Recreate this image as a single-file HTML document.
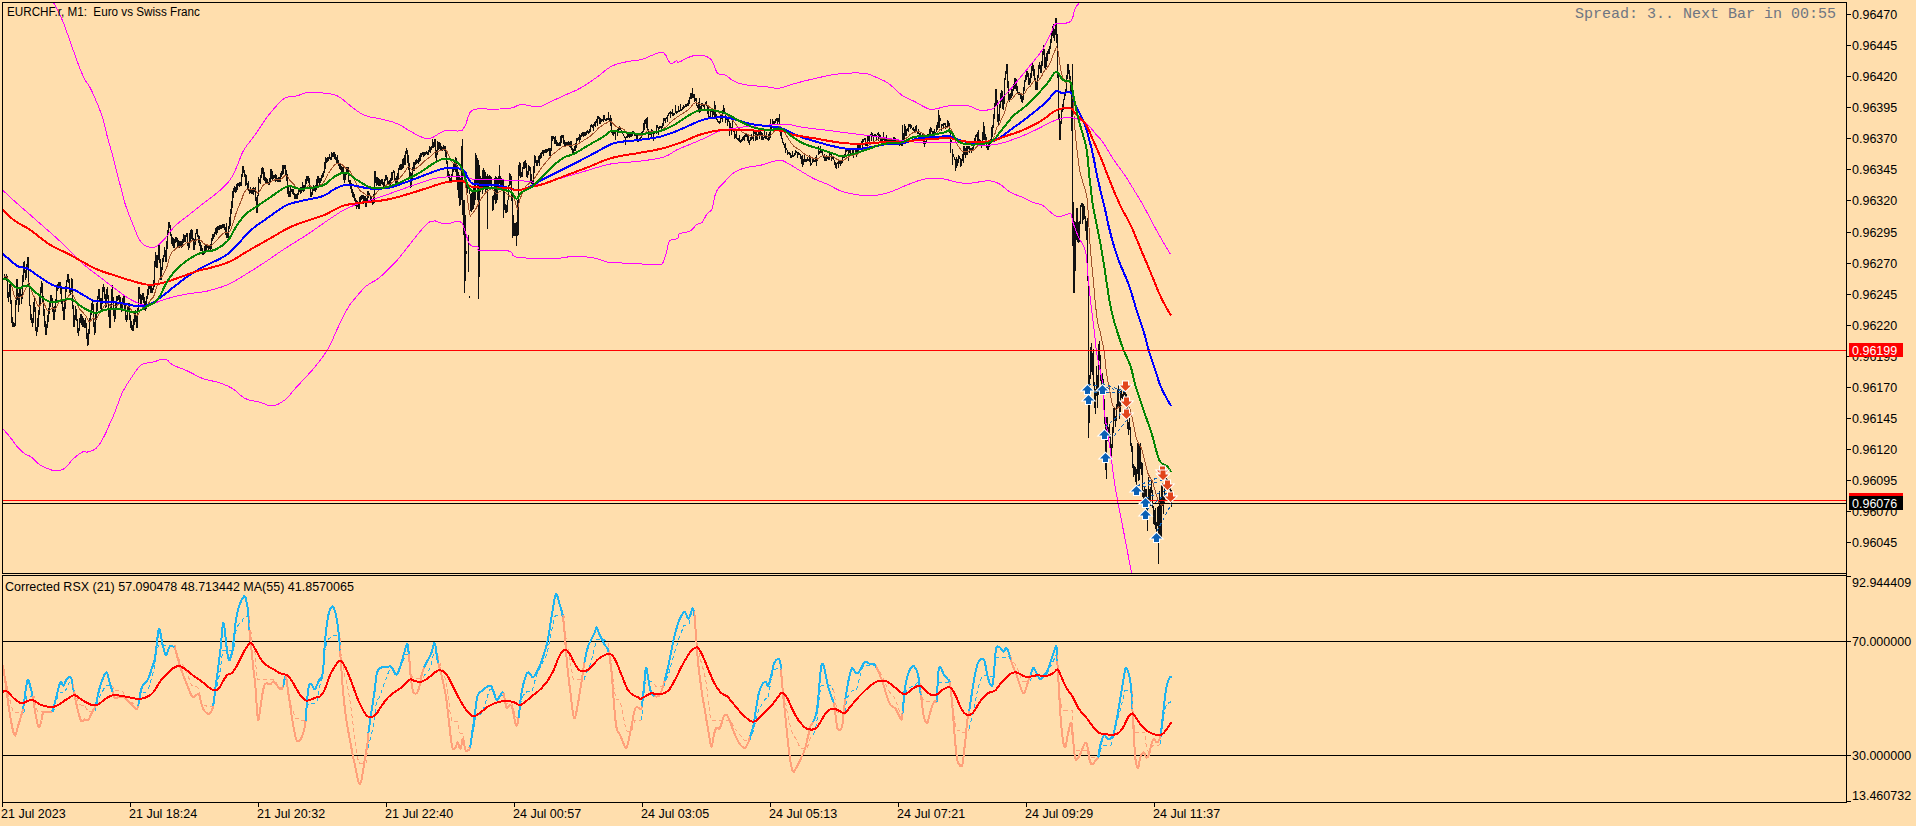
<!DOCTYPE html>
<html><head><meta charset="utf-8"><title>EURCHF.r,M1</title>
<style>
html,body{margin:0;padding:0;background:#FFDEAD;}
body{width:1916px;height:826px;position:relative;overflow:hidden;font-family:"Liberation Sans",sans-serif;}
.t{position:absolute;font-size:12.5px;line-height:14px;color:#000;white-space:nowrap;}
.m{position:absolute;font-family:"Liberation Mono",monospace;font-size:15px;line-height:16px;color:#6e7582;white-space:pre;}
.lab{position:absolute;width:54px;height:14px;font-size:12.5px;line-height:16px;color:#fff;text-indent:3px;white-space:nowrap;}
</style></head><body>
<svg width="1916" height="826" viewBox="0 0 1916 826" style="position:absolute;left:0;top:0" shape-rendering="crispEdges"><defs><clipPath id="cm"><rect x="3" y="3" width="1843" height="570"/></clipPath><clipPath id="cs"><rect x="3" y="577" width="1843" height="225"/></clipPath></defs><g clip-path="url(#cm)"><path d="M4.5 274V279M5.5 276V279M6.5 274V281M7.5 276V298M8.5 292V302M9.5 284V297M10.5 284V304M11.5 300V323M12.5 317V327M13.5 322V327M14.5 323V327M15.5 300V326M16.5 279V305M17.5 279V300M18.5 293V312M19.5 289V305M20.5 288V297M21.5 294V304M22.5 275V299M23.5 262V282M24.5 261V273M25.5 270V280M26.5 264V278M27.5 257V270M28.5 257V285M29.5 283V306M30.5 305V320M31.5 314V323M32.5 318V327M33.5 302V323M34.5 296V312M35.5 307V331M36.5 327V336M37.5 318V332M38.5 310V327M39.5 296V315M40.5 287V306M41.5 281V293M42.5 283V302M43.5 296V316M44.5 309V327M45.5 321V335M46.5 324V335M47.5 315V328M48.5 308V322M49.5 302V314M50.5 295V307M51.5 295V301M52.5 298V312M53.5 307V320M54.5 306V320M55.5 299V312M56.5 287V302M57.5 284V291M58.5 282V289M59.5 282V288M60.5 282V294M61.5 287V304M62.5 300V311M63.5 307V320M64.5 301V320M65.5 286V309M66.5 280V292M67.5 274V282M68.5 274V283M69.5 279V293M70.5 288V295M71.5 278V292M72.5 279V309M73.5 305V327M74.5 315V327M75.5 306V320M76.5 309V321M77.5 319V333M78.5 328V336M79.5 318V331M80.5 314V323M81.5 314V325M82.5 316V327M83.5 318V327M84.5 320V328M85.5 318V328M86.5 323V339M87.5 333V346M88.5 329V345M89.5 318V334M90.5 311V321M91.5 303V315M92.5 301V310M93.5 304V327M94.5 322V335M95.5 314V333M96.5 303V320M97.5 296V311M98.5 289V299M99.5 289V302M100.5 298V309M101.5 298V311M102.5 287V304M103.5 284V292M104.5 287V299M105.5 294V308M106.5 289V307M107.5 287V299M108.5 295V317M109.5 308V328M110.5 304V328M111.5 289V310M112.5 285V301M113.5 297V316M114.5 308V322M115.5 303V319M116.5 296V309M117.5 296V301M118.5 295V300M119.5 295V303M120.5 297V309M121.5 304V312M122.5 298V311M123.5 295V305M124.5 295V309M125.5 303V320M126.5 315V322M127.5 306V320M128.5 303V311M129.5 303V320M130.5 315V328M131.5 321V330M132.5 325V331M133.5 319V331M134.5 312V325M135.5 310V322M136.5 316V328M137.5 308V328M138.5 287V311M139.5 287V299M140.5 294V306M141.5 295V306M142.5 293V300M143.5 293V303M144.5 297V310M145.5 301V311M146.5 296V309M147.5 289V299M148.5 285V295M149.5 284V289M150.5 284V293M151.5 284V293M152.5 288V293M153.5 280V290M154.5 261V287M155.5 252V267M156.5 255V268M157.5 255V268M158.5 245V260M159.5 244V263M160.5 259V280M161.5 267V280M162.5 258V270M163.5 255V262M164.5 247V257M165.5 250V262M166.5 241V262M167.5 230V249M168.5 222V233M169.5 222V228M170.5 225V236M171.5 234V244M172.5 237V246M173.5 238V248M174.5 239V248M175.5 237V243M176.5 237V242M177.5 238V247M178.5 240V248M179.5 241V248M180.5 241V246M181.5 241V248M182.5 239V247M183.5 234V243M184.5 235V242M185.5 235V242M186.5 233V237M187.5 233V246M188.5 242V250M189.5 233V248M190.5 230V242M191.5 229V239M192.5 230V240M193.5 238V250M194.5 239V250M195.5 233V245M196.5 229V234M197.5 229V237M198.5 235V243M199.5 236V246M200.5 242V251M201.5 245V251M202.5 248V255M203.5 251V255M204.5 246V254M205.5 244V253M206.5 244V251M207.5 244V248M208.5 245V251M209.5 245V249M210.5 244V250M211.5 238V249M212.5 234V241M213.5 234V239M214.5 232V237M215.5 228V234M216.5 227V235M217.5 226V233M218.5 226V230M219.5 225V230M220.5 225V229M221.5 225V229M222.5 224V228M223.5 224V228M224.5 224V230M225.5 227V235M226.5 223V238M227.5 232V238M228.5 226V238M229.5 217V229M230.5 209V226M231.5 201V214M232.5 191V208M233.5 188V198M234.5 186V192M235.5 187V193M236.5 184V192M237.5 183V190M238.5 183V186M239.5 182V187M240.5 182V186M241.5 174V186M242.5 166V177M243.5 166V173M244.5 170V177M245.5 174V186M246.5 175V185M247.5 183V190M248.5 181V191M249.5 189V194M250.5 187V193M251.5 190V194M252.5 188V194M253.5 187V195M254.5 188V192M255.5 187V201M256.5 197V213M257.5 195V213M258.5 177V196M259.5 179V183M260.5 175V184M261.5 168V178M262.5 167V174M263.5 168V180M264.5 172V181M265.5 177V184M266.5 178V184M267.5 179V183M268.5 182V185M269.5 178V185M270.5 169V182M271.5 169V179M272.5 171V181M273.5 175V179M274.5 175V178M275.5 174V182M276.5 175V181M277.5 178V182M278.5 177V182M279.5 177V182M280.5 173V182M281.5 171V177M282.5 165V175M283.5 165V174M284.5 165V169M285.5 165V176M286.5 170V181M287.5 174V194M288.5 187V197M289.5 191V197M290.5 187V197M291.5 189V192M292.5 189V194M293.5 189V195M294.5 193V199M295.5 194V199M296.5 194V199M297.5 193V199M298.5 190V195M299.5 189V192M300.5 187V194M301.5 187V193M302.5 182V191M303.5 185V192M304.5 185V191M305.5 179V187M306.5 176V184M307.5 176V181M308.5 176V183M309.5 178V189M310.5 187V197M311.5 192V197M312.5 188V195M313.5 185V191M314.5 187V191M315.5 185V192M316.5 179V190M317.5 176V187M318.5 176V183M319.5 178V186M320.5 178V183M321.5 175V181M322.5 173V178M323.5 171V177M324.5 162V173M325.5 157V169M326.5 158V163M327.5 157V162M328.5 157V161M329.5 154V159M330.5 157V160M331.5 152V160M332.5 153V157M333.5 152V157M334.5 152V159M335.5 154V160M336.5 157V163M337.5 155V163M338.5 160V166M339.5 163V169M340.5 164V170M341.5 166V172M342.5 167V173M343.5 165V180M344.5 174V183M345.5 172V180M346.5 167V175M347.5 167V174M348.5 167V182M349.5 180V186M350.5 180V189M351.5 183V193M352.5 189V197M353.5 192V198M354.5 194V201M355.5 198V206M356.5 200V209M357.5 201V207M358.5 202V209M359.5 197V209M360.5 196V204M361.5 195V200M362.5 195V199M363.5 195V204M364.5 196V203M365.5 196V207M366.5 198V207M367.5 191V201M368.5 191V198M369.5 193V196M370.5 195V200M371.5 197V203M372.5 199V205M373.5 194V204M374.5 171V203M375.5 171V183M376.5 177V186M377.5 177V185M378.5 178V186M379.5 179V186M380.5 180V186M381.5 179V184M382.5 179V185M383.5 182V187M384.5 179V187M385.5 175V181M386.5 175V180M387.5 177V185M388.5 181V185M389.5 180V185M390.5 178V185M391.5 172V181M392.5 172V180M393.5 170V173M394.5 171V181M395.5 178V185M396.5 176V184M397.5 173V183M398.5 168V180M399.5 165V170M400.5 164V170M401.5 164V170M402.5 159V169M403.5 158V168M404.5 155V165M405.5 151V165M406.5 148V154M407.5 150V163M408.5 155V170M409.5 163V178M410.5 172V188M411.5 173V187M412.5 167V179M413.5 162V171M414.5 162V171M415.5 160V165M416.5 159V164M417.5 160V163M418.5 158V164M419.5 155V162M420.5 153V161M421.5 153V157M422.5 152V155M423.5 152V157M424.5 152V156M425.5 152V155M426.5 151V154M427.5 152V155M428.5 150V155M429.5 146V152M430.5 147V153M431.5 146V150M432.5 139V148M433.5 142V148M434.5 139V147M435.5 139V158M436.5 150V162M437.5 141V155M438.5 142V150M439.5 142V149M440.5 143V151M441.5 146V151M442.5 147V151M443.5 145V150M444.5 146V151M445.5 146V157M446.5 152V164M447.5 161V177M448.5 171V178M449.5 174V181M450.5 178V183M451.5 174V183M452.5 168V177M453.5 163V172M454.5 160V170M455.5 157V172M456.5 158V180M457.5 165V190M458.5 172V198M459.5 175V206M460.5 178V205M461.5 146V200M462.5 139V215M463.5 200V235M464.5 200V293M465.5 215V281M466.5 185V192M467.5 186V193M468.5 235V272M469.5 188V194M470.5 194V211M471.5 193V212M472.5 190V210M473.5 188V209M474.5 180V205M475.5 153V200M476.5 155V185M477.5 158V200M478.5 160V299M479.5 165V277M480.5 176V192M481.5 178V190M482.5 170V194M483.5 168V190M484.5 170V188M485.5 172V192M486.5 176V190M487.5 174V229M488.5 176V188M489.5 175V186M490.5 176V186M491.5 177V188M492.5 196V211M493.5 195V210M494.5 178V200M495.5 176V204M496.5 177V203M497.5 178V200M498.5 176V190M499.5 165V184M500.5 176V186M501.5 178V187M502.5 179V187M503.5 180V218M504.5 192V210M505.5 204V213M506.5 205V213M507.5 200V212M508.5 185V200M509.5 173V186M510.5 174V185M511.5 176V201M512.5 194V238M513.5 215V236M514.5 223V236M515.5 223V236M516.5 222V246M517.5 200V236M518.5 165V235M519.5 162V176M520.5 163V178M521.5 172V177M522.5 167V177M523.5 162V169M524.5 161V169M525.5 160V168M526.5 163V177M527.5 171V178M528.5 165V175M529.5 166V171M530.5 167V182M531.5 174V184M532.5 181V186M533.5 166V187M534.5 155V173M535.5 156V163M536.5 160V166M537.5 160V166M538.5 156V163M539.5 155V166M540.5 153V159M541.5 152V158M542.5 150V154M543.5 150V156M544.5 150V153M545.5 149V153M546.5 149V153M547.5 149V152M548.5 148V151M549.5 148V156M550.5 148V156M551.5 136V151M552.5 136V141M553.5 136V139M554.5 137V144M555.5 136V144M556.5 140V146M557.5 142V146M558.5 143V146M559.5 142V146M560.5 136V146M561.5 135V143M562.5 135V138M563.5 135V144M564.5 140V146M565.5 142V146M566.5 142V146M567.5 142V146M568.5 141V146M569.5 142V147M570.5 141V148M571.5 141V150M572.5 148V153M573.5 149V153M574.5 146V151M575.5 143V151M576.5 138V148M577.5 138V141M578.5 137V140M579.5 134V142M580.5 135V140M581.5 133V137M582.5 132V136M583.5 132V137M584.5 132V136M585.5 132V136M586.5 131V135M587.5 130V133M588.5 131V134M589.5 129V133M590.5 125V132M591.5 124V127M592.5 125V128M593.5 124V131M594.5 122V126M595.5 121V127M596.5 119V123M597.5 116V126M598.5 116V119M599.5 117V124M600.5 118V124M601.5 119V122M602.5 119V121M603.5 115V122M604.5 115V120M605.5 119V121M606.5 118V121M607.5 118V120M608.5 112V120M609.5 118V121M610.5 115V126M611.5 118V133M612.5 132V135M613.5 130V136M614.5 131V134M615.5 131V140M616.5 130V132M617.5 129V136M618.5 128V131M619.5 126V130M620.5 128V130M621.5 130V132M622.5 132V134M623.5 134V136M624.5 136V138M625.5 137V145M626.5 136V138M627.5 134V138M628.5 132V137M629.5 132V138M630.5 133V137M631.5 134V137M632.5 131V136M633.5 131V134M634.5 132V136M635.5 133V136M636.5 134V140M637.5 134V142M638.5 139V142M639.5 138V141M640.5 137V140M641.5 132V138M642.5 131V136M643.5 123V132M644.5 120V130M645.5 119V124M646.5 118V128M647.5 117V130M648.5 129V139M649.5 132V135M650.5 131V135M651.5 129V139M652.5 130V133M653.5 132V141M654.5 131V134M655.5 131V133M656.5 125V134M657.5 125V128M658.5 127V135M659.5 126V129M660.5 126V128M661.5 126V132M662.5 123V128M663.5 118V126M664.5 118V121M665.5 118V123M666.5 117V119M667.5 115V122M668.5 113V116M669.5 112V114M670.5 111V118M671.5 112V114M672.5 109V116M673.5 113V116M674.5 113V115M675.5 105V113M676.5 111V114M677.5 111V113M678.5 106V112M679.5 110V112M680.5 104V111M681.5 109V111M682.5 107V110M683.5 105V109M684.5 106V108M685.5 104V107M686.5 104V107M687.5 103V106M688.5 100V106M689.5 97V104M690.5 93V99M691.5 93V99M692.5 88V98M693.5 94V98M694.5 94V102M695.5 98V101M696.5 98V106M697.5 105V108M698.5 102V110M699.5 98V113M700.5 106V112M701.5 103V109M702.5 103V106M703.5 104V107M704.5 104V109M705.5 102V105M706.5 101V106M707.5 105V114M708.5 107V117M709.5 116V118M710.5 111V118M711.5 109V112M712.5 110V119M713.5 111V115M714.5 101V119M715.5 105V119M716.5 114V120M717.5 119V122M718.5 121V123M719.5 121V124M720.5 114V123M721.5 115V119M722.5 110V122M723.5 105V113M724.5 108V114M725.5 114V123M726.5 116V120M727.5 118V126M728.5 119V122M729.5 121V136M730.5 123V130M731.5 127V135M732.5 119V131M733.5 128V132M734.5 131V139M735.5 134V138M736.5 131V139M737.5 138V140M738.5 138V141M739.5 135V142M740.5 140V143M741.5 139V142M742.5 137V141M743.5 136V140M744.5 135V141M745.5 134V137M746.5 134V137M747.5 135V141M748.5 136V143M749.5 140V145M750.5 137V141M751.5 134V140M752.5 136V139M753.5 131V141M754.5 131V134M755.5 132V141M756.5 132V140M757.5 134V140M758.5 132V135M759.5 131V139M760.5 131V135M761.5 132V140M762.5 133V140M763.5 137V140M764.5 131V138M765.5 136V139M766.5 132V139M767.5 138V140M768.5 134V141M769.5 132V140M770.5 119V138M771.5 126V130M772.5 119V125M773.5 121V125M774.5 121V124M775.5 119V123M776.5 118V121M777.5 118V124M778.5 118V122M779.5 114V124M780.5 126V136M781.5 132V139M782.5 138V143M783.5 142V145M784.5 144V148M785.5 143V153M786.5 148V150M787.5 150V155M788.5 152V154M789.5 152V155M790.5 153V158M791.5 155V158M792.5 151V157M793.5 155V157M794.5 153V156M795.5 150V155M796.5 151V153M797.5 152V158M798.5 152V155M799.5 153V155M800.5 154V159M801.5 156V164M802.5 155V167M803.5 159V165M804.5 155V162M805.5 159V162M806.5 159V162M807.5 157V161M808.5 159V161M809.5 155V162M810.5 157V166M811.5 163V165M812.5 158V163M813.5 159V162M814.5 160V162M815.5 157V162M816.5 155V166M817.5 159V161M818.5 146V155M819.5 151V154M820.5 146V153M821.5 150V153M822.5 149V156M823.5 155V158M824.5 154V161M825.5 157V161M826.5 155V161M827.5 157V159M828.5 157V160M829.5 153V160M830.5 153V155M831.5 154V161M832.5 156V159M833.5 157V160M834.5 160V165M835.5 162V168M836.5 163V169M837.5 162V164M838.5 161V168M839.5 161V164M840.5 161V166M841.5 160V164M842.5 157V163M843.5 155V158M844.5 154V158M845.5 149V156M846.5 149V152M847.5 149V151M848.5 149V161M849.5 149V153M850.5 148V156M851.5 153V156M852.5 149V154M853.5 149V158M854.5 153V155M855.5 149V154M856.5 150V157M857.5 145V154M858.5 144V151M859.5 145V148M860.5 144V149M861.5 141V145M862.5 139V148M863.5 139V142M864.5 138V140M865.5 138V146M866.5 143V146M867.5 136V146M868.5 135V141M869.5 135V142M870.5 134V136M871.5 132V141M872.5 133V136M873.5 135V141M874.5 134V137M875.5 134V137M876.5 135V140M877.5 133V135M878.5 132V141M879.5 134V137M880.5 135V141M881.5 138V141M882.5 139V142M883.5 132V140M884.5 139V141M885.5 139V141M886.5 135V141M887.5 140V142M888.5 140V142M889.5 140V143M890.5 140V143M891.5 140V143M892.5 139V141M893.5 137V143M894.5 137V141M895.5 138V141M896.5 140V145M897.5 141V143M898.5 141V144M899.5 142V146M900.5 142V145M901.5 142V146M902.5 125V146M903.5 133V143M904.5 124V140M905.5 126V136M906.5 129V136M907.5 128V131M908.5 124V132M909.5 124V127M910.5 124V129M911.5 125V128M912.5 128V130M913.5 127V131M914.5 129V132M915.5 126V132M916.5 125V132M917.5 131V134M918.5 129V134M919.5 133V135M920.5 132V136M921.5 136V138M922.5 134V140M923.5 139V144M924.5 140V147M925.5 141V144M926.5 140V143M927.5 134V140M928.5 134V138M929.5 129V135M930.5 127V135M931.5 128V132M932.5 131V135M933.5 131V134M934.5 129V134M935.5 132V135M936.5 125V132M937.5 122V130M938.5 110V128M939.5 115V128M940.5 118V121M941.5 124V131M942.5 124V126M943.5 123V129M944.5 123V125M945.5 123V129M946.5 126V128M947.5 120V128M948.5 121V126M949.5 123V133M950.5 132V153M951.5 140V143M952.5 149V165M953.5 154V157M954.5 157V160M955.5 159V171M956.5 157V168M957.5 159V166M958.5 155V163M959.5 156V159M960.5 158V167M961.5 159V166M962.5 154V161M963.5 146V163M964.5 146V155M965.5 148V158M966.5 146V155M967.5 146V155M968.5 146V149M969.5 146V153M970.5 148V151M971.5 148V153M972.5 147V151M973.5 144V149M974.5 138V146M975.5 135V145M976.5 134V137M977.5 132V141M978.5 130V142M979.5 139V141M980.5 140V144M981.5 141V148M982.5 132V144M983.5 122V140M984.5 126V140M985.5 134V142M986.5 137V148M987.5 145V150M988.5 144V150M989.5 141V147M990.5 139V144M991.5 127V141M992.5 125V137M993.5 114V128M994.5 103V119M995.5 89V107M996.5 89V105M997.5 100V122M998.5 114V126M999.5 104V121M1000.5 93V108M1001.5 90V102M1002.5 91V109M1003.5 96V110M1004.5 78V104M1005.5 71V80M1006.5 64V74M1007.5 64V88M1008.5 81V101M1009.5 94V102M1010.5 93V99M1011.5 88V98M1012.5 89V96M1013.5 84V91M1014.5 78V89M1015.5 78V89M1016.5 79V91M1017.5 86V94M1018.5 92V95M1019.5 92V95M1020.5 93V99M1021.5 94V102M1022.5 96V103M1023.5 87V100M1024.5 80V91M1025.5 75V82M1026.5 71V80M1027.5 71V77M1028.5 73V85M1029.5 78V85M1030.5 73V83M1031.5 66V78M1032.5 63V71M1033.5 65V76M1034.5 69V80M1035.5 78V90M1036.5 82V90M1037.5 75V90M1038.5 65V78M1039.5 62V69M1040.5 65V73M1041.5 61V73M1042.5 51V66M1043.5 45V55M1044.5 49V68M1045.5 57V69M1046.5 53V67M1047.5 51V61M1048.5 49V54M1049.5 46V54M1050.5 39V49M1051.5 32V43M1052.5 26V36M1053.5 24V38M1054.5 29V41M1055.5 18V35M1056.5 18V43M1057.5 34V78M1058.5 73V119M1059.5 114V140M1060.5 121V140M1061.5 110V124M1062.5 104V112M1063.5 99V110M1064.5 93V100M1065.5 89V96M1066.5 75V92M1067.5 64V79M1068.5 64V74M1069.5 70V79M1070.5 76V94M1071.5 89V131M1072.5 64V246M1073.5 202V293M1074.5 221V293M1075.5 222V271M1076.5 208V240M1077.5 208V242M1078.5 222V243M1079.5 221V242M1080.5 205V224M1081.5 203V207M1082.5 203V224M1083.5 204V220M1084.5 206V219M1085.5 216V231M1086.5 221V240M1087.5 218V281M1088.5 281V438M1089.5 375V423M1090.5 347V379M1091.5 343V372M1092.5 353V375M1093.5 349V386M1094.5 382V408M1095.5 389V414M1096.5 366V396M1097.5 375V408M1098.5 344V395M1099.5 341V361M1100.5 355V381M1101.5 377V389M1102.5 373V387M1103.5 379V401M1104.5 399V424M1105.5 420V470M1106.5 417V479M1107.5 417V441M1108.5 427V442M1109.5 424V438M1110.5 434V456M1111.5 444V457M1112.5 427V448M1113.5 408V433M1114.5 408V421M1115.5 416V427M1116.5 404V421M1117.5 389V409M1118.5 385V408M1119.5 401V419M1120.5 391V412M1121.5 391V398M1122.5 394V399M1123.5 391V400M1124.5 389V395M1125.5 391V398M1126.5 394V412M1127.5 404V429M1128.5 422V435M1129.5 418V430M1130.5 427V446M1131.5 443V452M1132.5 446V468M1133.5 464V477M1134.5 466V475M1135.5 467V482M1136.5 469V487M1137.5 443V474M1138.5 443V481M1139.5 445V480M1140.5 443V469M1141.5 462V475M1142.5 463V497M1143.5 490V499M1144.5 487V501M1145.5 489V500M1146.5 489V511M1147.5 498V531M1148.5 477V500M1149.5 489V503M1150.5 487V506M1151.5 479V493M1152.5 490V508M1153.5 506V524M1154.5 510V525M1155.5 508V529M1156.5 522V536M1157.5 507V526M1158.5 506V564M1159.5 491V540M1160.5 498V537M1161.5 484V537M1162.5 483V506M1163.5 496V514M1164.5 474V503M1165.5 476V479M1166.5 478V483M1167.5 479V484M1168.5 480V490M1169.5 485V490M1170.5 485V493M1171.5 490V507M466.5 251V254M469.5 296V298" stroke="#111" stroke-width="1" fill="none"/><polyline points="4.5,276.5 5.5,276.6 6.5,276.8 7.5,277.8 8.5,279.9 9.5,281.0 10.5,282.3 11.5,285.4 12.5,289.2 13.5,292.9 14.5,296.3 15.5,298.0 16.5,297.4 17.5,296.6 18.5,297.2 19.5,297.2 20.5,296.7 21.5,296.9 22.5,295.9 23.5,293.4 24.5,290.6 25.5,289.0 26.5,287.1 27.5,284.6 28.5,283.2 29.5,284.4 30.5,287.3 31.5,290.6 32.5,293.9 33.5,295.9 34.5,296.8 35.5,299.1 36.5,302.5 37.5,304.9 38.5,306.3 39.5,306.2 40.5,305.2 41.5,303.3 42.5,302.2 43.5,302.6 44.5,304.2 45.5,306.7 46.5,309.0 47.5,310.4 48.5,310.8 49.5,310.6 50.5,309.5 51.5,308.3 52.5,308.0 53.5,308.6 54.5,309.0 55.5,308.7 56.5,307.2 57.5,305.2 58.5,303.1 59.5,301.2 60.5,299.8 61.5,299.4 62.5,300.0 63.5,301.4 64.5,302.4 65.5,301.9 66.5,300.2 67.5,297.9 68.5,295.9 69.5,294.8 70.5,294.5 71.5,293.5 72.5,293.6 73.5,295.9 74.5,298.5 75.5,300.0 76.5,301.6 77.5,304.2 78.5,307.1 79.5,308.9 80.5,309.9 81.5,310.9 82.5,312.1 83.5,313.2 84.5,314.3 85.5,315.2 86.5,316.9 87.5,319.3 88.5,321.1 89.5,321.7 90.5,321.0 91.5,319.7 92.5,318.2 93.5,318.0 94.5,319.1 95.5,319.6 96.5,318.7 97.5,317.1 98.5,314.7 99.5,312.7 100.5,311.7 101.5,310.9 102.5,309.3 103.5,307.0 104.5,305.6 105.5,305.1 106.5,304.3 107.5,303.1 108.5,303.4 109.5,305.0 110.5,306.2 111.5,305.4 112.5,304.1 113.5,304.4 114.5,305.5 115.5,306.1 116.5,305.7 117.5,304.9 118.5,304.2 119.5,303.6 120.5,303.6 121.5,304.0 122.5,304.1 123.5,303.6 124.5,303.4 125.5,304.3 126.5,305.8 127.5,306.6 128.5,306.6 129.5,307.1 130.5,308.7 131.5,310.5 132.5,312.3 133.5,313.7 134.5,314.2 135.5,314.4 136.5,315.2 137.5,315.5 138.5,313.8 139.5,311.6 140.5,310.4 141.5,309.4 142.5,308.0 143.5,307.0 144.5,306.6 145.5,306.6 146.5,306.2 147.5,304.9 148.5,303.3 149.5,301.6 150.5,300.2 151.5,299.0 152.5,298.1 153.5,296.7 154.5,294.3 155.5,290.7 156.5,287.6 157.5,284.8 158.5,281.4 159.5,278.5 160.5,277.6 161.5,277.1 162.5,275.7 163.5,273.9 164.5,271.6 165.5,269.9 166.5,268.0 167.5,265.0 168.5,261.1 169.5,257.3 170.5,254.5 171.5,252.9 172.5,251.7 173.5,250.7 174.5,250.0 175.5,248.9 176.5,247.9 177.5,247.3 178.5,247.0 179.5,246.7 180.5,246.3 181.5,246.1 182.5,245.8 183.5,245.0 184.5,244.3 185.5,243.7 186.5,242.8 187.5,242.5 188.5,242.9 189.5,242.6 190.5,241.9 191.5,241.1 192.5,240.4 193.5,240.8 194.5,241.1 195.5,240.9 196.5,239.9 197.5,239.2 198.5,239.2 199.5,239.4 200.5,240.2 201.5,241.0 202.5,242.1 203.5,243.3 204.5,244.0 205.5,244.5 206.5,244.8 207.5,245.0 208.5,245.3 209.5,245.5 210.5,245.6 211.5,245.4 212.5,244.6 213.5,243.8 214.5,242.8 215.5,241.6 216.5,240.5 217.5,239.4 218.5,238.2 219.5,237.0 220.5,236.0 221.5,235.0 222.5,234.1 223.5,233.3 224.5,232.6 225.5,232.5 226.5,232.3 227.5,232.6 228.5,232.5 229.5,231.5 230.5,230.0 231.5,227.6 232.5,224.7 233.5,221.4 234.5,218.0 235.5,215.0 236.5,212.2 237.5,209.5 238.5,206.9 239.5,204.6 240.5,202.4 241.5,200.0 242.5,197.0 243.5,194.2 244.5,192.0 245.5,190.7 246.5,189.6 247.5,189.3 248.5,188.9 249.5,189.2 250.5,189.3 251.5,189.6 252.5,189.7 253.5,189.9 254.5,189.9 255.5,190.3 256.5,191.8 257.5,193.1 258.5,192.4 259.5,191.2 260.5,190.0 261.5,188.2 262.5,186.3 263.5,185.0 264.5,184.1 265.5,183.7 266.5,183.4 267.5,183.2 268.5,183.2 269.5,183.0 270.5,182.2 271.5,181.4 272.5,180.8 273.5,180.4 274.5,180.0 275.5,179.8 276.5,179.6 277.5,179.7 278.5,179.7 279.5,179.7 280.5,179.5 281.5,178.9 282.5,178.0 283.5,177.1 284.5,176.1 285.5,175.4 286.5,175.4 287.5,176.4 288.5,178.0 289.5,179.7 290.5,181.0 291.5,182.0 292.5,182.9 293.5,183.9 294.5,185.2 295.5,186.4 296.5,187.5 297.5,188.4 298.5,188.8 299.5,189.0 300.5,189.1 301.5,189.2 302.5,188.9 303.5,188.9 304.5,188.8 305.5,188.1 306.5,187.3 307.5,186.4 308.5,185.7 309.5,185.4 310.5,186.1 311.5,187.0 312.5,187.5 313.5,187.5 314.5,187.6 315.5,187.7 316.5,187.4 317.5,186.8 318.5,186.0 319.5,185.6 320.5,185.1 321.5,184.3 322.5,183.4 323.5,182.4 324.5,180.8 325.5,179.0 326.5,177.0 327.5,175.2 328.5,173.5 329.5,171.7 330.5,170.3 331.5,168.8 332.5,167.4 333.5,166.0 334.5,165.0 335.5,164.1 336.5,163.7 337.5,163.2 338.5,163.1 339.5,163.4 340.5,163.8 341.5,164.4 342.5,165.0 343.5,165.8 344.5,167.1 345.5,168.0 346.5,168.4 347.5,168.6 348.5,169.2 349.5,170.7 350.5,172.1 351.5,173.8 352.5,175.8 353.5,177.8 354.5,179.8 355.5,182.2 356.5,184.5 357.5,186.6 358.5,188.6 359.5,190.1 360.5,191.1 361.5,191.8 362.5,192.3 363.5,193.1 364.5,193.8 365.5,194.6 366.5,195.4 367.5,195.5 368.5,195.4 369.5,195.3 370.5,195.6 371.5,196.1 372.5,196.7 373.5,197.0 374.5,196.0 375.5,194.0 376.5,192.7 377.5,191.5 378.5,190.5 379.5,189.6 380.5,189.0 381.5,188.2 382.5,187.5 383.5,187.2 384.5,186.8 385.5,185.8 386.5,185.0 387.5,184.5 388.5,184.3 389.5,184.1 390.5,183.8 391.5,183.1 392.5,182.3 393.5,181.2 394.5,180.6 395.5,180.7 396.5,180.6 397.5,180.3 398.5,179.7 399.5,178.4 400.5,177.2 401.5,176.2 402.5,174.9 403.5,173.7 404.5,172.2 405.5,170.8 406.5,168.6 407.5,167.4 408.5,166.9 409.5,167.3 410.5,168.6 411.5,169.8 412.5,170.2 413.5,169.8 414.5,169.5 415.5,168.7 416.5,168.0 417.5,167.3 418.5,166.6 419.5,165.8 420.5,164.9 421.5,163.9 422.5,162.8 423.5,161.9 424.5,161.1 425.5,160.3 426.5,159.5 427.5,158.9 428.5,158.1 429.5,157.2 430.5,156.4 431.5,155.6 432.5,154.3 433.5,153.3 434.5,152.2 435.5,151.9 436.5,152.3 437.5,151.8 438.5,151.2 439.5,150.6 440.5,150.2 441.5,150.1 442.5,150.0 443.5,149.7 444.5,149.6 445.5,149.8 446.5,150.6 447.5,152.6 448.5,154.9 449.5,157.3 450.5,159.7 451.5,161.7 452.5,162.9 453.5,163.4 454.5,163.6 455.5,163.7 456.5,164.9 457.5,166.7 458.5,168.4 459.5,169.7 460.5,170.3 461.5,170.3 462.5,170.7 463.5,171.1 464.5,177.0 465.5,184.4 466.5,191.7 467.5,199.0 468.5,206.3 469.5,213.6 470.5,215.8 471.5,214.6 472.5,213.4 473.5,212.2 474.5,211.0 475.5,209.5 476.5,207.5 477.5,205.5 478.5,203.4 479.5,201.4 480.5,199.6 481.5,198.3 482.5,197.0 483.5,195.6 484.5,194.3 485.5,193.0 486.5,191.7 487.5,191.1 488.5,190.5 489.5,189.9 490.5,189.3 491.5,188.7 492.5,189.7 493.5,190.7 494.5,191.6 495.5,192.6 496.5,193.6 497.5,193.3 498.5,192.6 499.5,191.9 500.5,191.3 501.5,190.6 502.5,190.0 503.5,190.3 504.5,191.3 505.5,192.3 506.5,193.4 507.5,194.4 508.5,195.4 509.5,196.1 510.5,196.5 511.5,196.9 512.5,197.2 513.5,197.6 514.5,199.0 515.5,202.7 516.5,206.4 517.5,208.6 518.5,204.9 519.5,201.2 520.5,197.7 521.5,195.5 522.5,193.2 523.5,191.0 524.5,188.8 525.5,186.6 526.5,185.7 527.5,184.8 528.5,184.0 529.5,183.1 530.5,182.2 531.5,181.3 532.5,180.5 533.5,179.6 534.5,178.2 535.5,176.7 536.5,175.3 537.5,173.8 538.5,172.3 539.5,170.8 540.5,169.3 541.5,167.8 542.5,166.5 543.5,165.3 544.5,164.1 545.5,162.9 546.5,161.7 547.5,160.5 548.5,159.3 549.5,158.1 550.5,156.9 551.5,155.7 552.5,154.5 553.5,153.7 554.5,152.9 555.5,152.2 556.5,151.4 557.5,150.6 558.5,149.8 559.5,149.0 560.5,148.2 561.5,147.4 562.5,146.6 563.5,146.4 564.5,146.2 565.5,146.1 566.5,146.0 567.5,145.8 568.5,145.7 569.5,145.6 570.5,145.4 571.5,145.3 572.5,145.1 573.5,145.0 574.5,144.8 575.5,144.6 576.5,144.5 577.5,144.1 578.5,143.6 579.5,143.1 580.5,142.5 581.5,141.9 582.5,141.3 583.5,140.6 584.5,139.9 585.5,139.3 586.5,138.7 587.5,138.0 588.5,137.4 589.5,136.7 590.5,135.9 591.5,134.8 592.5,133.9 593.5,133.3 594.5,132.3 595.5,131.4 596.5,130.3 597.5,129.3 598.5,128.0 599.5,127.2 600.5,126.6 601.5,126.0 602.5,125.3 603.5,124.6 604.5,123.9 605.5,123.5 606.5,123.0 607.5,122.6 608.5,121.9 609.5,121.7 610.5,121.6 611.5,122.0 612.5,123.2 613.5,124.2 614.5,125.1 615.5,126.2 616.5,126.7 617.5,127.3 618.5,127.5 619.5,127.6 620.5,127.8 621.5,128.1 622.5,128.6 623.5,129.3 624.5,130.1 625.5,131.3 626.5,131.9 627.5,132.3 628.5,132.6 629.5,132.8 630.5,133.0 631.5,133.3 632.5,133.3 633.5,133.3 634.5,133.3 635.5,133.5 636.5,133.9 637.5,134.3 638.5,135.0 639.5,135.4 640.5,135.7 641.5,135.7 642.5,135.4 643.5,134.6 644.5,133.5 645.5,132.3 646.5,131.4 647.5,130.5 648.5,130.9 649.5,131.1 650.5,131.3 651.5,131.6 652.5,131.6 653.5,132.1 654.5,132.2 655.5,132.2 656.5,131.9 657.5,131.3 658.5,131.3 659.5,130.9 660.5,130.5 661.5,130.3 662.5,129.9 663.5,129.0 664.5,128.0 665.5,127.2 666.5,126.3 667.5,125.5 668.5,124.3 669.5,123.1 670.5,122.2 671.5,121.3 672.5,120.3 673.5,119.8 674.5,119.1 675.5,118.1 676.5,117.5 677.5,116.9 678.5,116.1 679.5,115.6 680.5,114.8 681.5,114.3 682.5,113.7 683.5,113.0 684.5,112.4 685.5,111.7 686.5,111.0 687.5,110.3 688.5,109.6 689.5,108.6 690.5,107.3 691.5,106.1 692.5,104.7 693.5,103.8 694.5,103.2 695.5,102.8 696.5,102.8 697.5,103.2 698.5,103.5 699.5,103.7 700.5,104.2 701.5,104.4 702.5,104.5 703.5,104.6 704.5,104.8 705.5,104.7 706.5,104.6 707.5,105.1 708.5,105.9 709.5,107.0 710.5,107.8 711.5,108.1 712.5,108.8 713.5,109.2 714.5,109.3 715.5,109.6 716.5,110.4 717.5,111.5 718.5,112.6 719.5,113.6 720.5,114.1 721.5,114.4 722.5,114.6 723.5,113.9 724.5,113.6 725.5,114.2 726.5,114.6 727.5,115.3 728.5,115.9 729.5,117.2 730.5,118.2 731.5,119.5 732.5,120.1 733.5,121.2 734.5,122.6 735.5,124.0 736.5,125.2 737.5,126.6 738.5,128.0 739.5,129.1 740.5,130.4 741.5,131.5 742.5,132.3 743.5,132.9 744.5,133.4 745.5,133.7 746.5,133.9 747.5,134.3 748.5,134.9 749.5,135.7 750.5,136.0 751.5,136.1 752.5,136.2 753.5,136.2 754.5,135.8 755.5,135.9 756.5,135.9 757.5,136.1 758.5,135.8 759.5,135.7 760.5,135.4 761.5,135.5 762.5,135.6 763.5,135.9 764.5,135.8 765.5,135.9 766.5,135.9 767.5,136.2 768.5,136.3 769.5,136.3 770.5,135.4 771.5,134.6 772.5,133.3 773.5,132.2 774.5,131.2 775.5,130.1 776.5,129.0 777.5,128.2 778.5,127.3 779.5,126.5 780.5,127.0 781.5,127.9 782.5,129.2 783.5,130.7 784.5,132.3 785.5,133.9 786.5,135.5 787.5,137.3 788.5,139.0 789.5,140.5 790.5,142.1 791.5,143.6 792.5,144.7 793.5,145.9 794.5,146.8 795.5,147.5 796.5,147.9 797.5,148.7 798.5,149.2 799.5,149.7 800.5,150.4 801.5,151.4 802.5,152.5 803.5,153.5 804.5,154.0 805.5,154.7 806.5,155.3 807.5,155.7 808.5,156.2 809.5,156.4 810.5,156.9 811.5,157.7 812.5,158.0 813.5,158.3 814.5,158.6 815.5,158.6 816.5,158.9 817.5,159.0 818.5,158.1 819.5,157.6 820.5,156.7 821.5,156.2 822.5,155.8 823.5,155.8 824.5,156.0 825.5,156.3 826.5,156.5 827.5,156.7 828.5,156.9 829.5,156.9 830.5,156.6 831.5,156.6 832.5,156.7 833.5,156.9 834.5,157.5 835.5,158.3 836.5,159.1 837.5,159.5 838.5,160.0 839.5,160.3 840.5,160.6 841.5,160.7 842.5,160.6 843.5,160.2 844.5,159.8 845.5,159.0 846.5,158.1 847.5,157.2 848.5,157.0 849.5,156.4 850.5,155.9 851.5,155.7 852.5,155.3 853.5,155.1 854.5,155.0 855.5,154.7 856.5,154.5 857.5,154.0 858.5,153.3 859.5,152.6 860.5,151.9 861.5,151.0 862.5,150.2 863.5,149.2 864.5,148.1 865.5,147.5 866.5,147.2 867.5,146.5 868.5,145.6 869.5,144.9 870.5,143.8 871.5,143.1 872.5,142.2 873.5,141.8 874.5,141.1 875.5,140.5 876.5,140.2 877.5,139.5 878.5,139.2 879.5,138.8 880.5,138.7 881.5,138.9 882.5,139.0 883.5,138.7 884.5,138.8 885.5,139.0 886.5,138.9 887.5,139.1 888.5,139.3 889.5,139.5 890.5,139.8 891.5,139.9 892.5,139.9 893.5,139.9 894.5,139.8 895.5,139.8 896.5,140.1 897.5,140.3 898.5,140.5 899.5,140.9 900.5,141.2 901.5,141.6 902.5,140.9 903.5,140.6 904.5,139.7 905.5,138.8 906.5,138.1 907.5,137.2 908.5,136.3 909.5,135.1 910.5,134.3 911.5,133.4 912.5,133.0 913.5,132.5 914.5,132.3 915.5,132.0 916.5,131.6 917.5,131.7 918.5,131.7 919.5,131.9 920.5,132.1 921.5,132.6 922.5,133.1 923.5,134.0 924.5,135.0 925.5,135.8 926.5,136.4 927.5,136.5 928.5,136.4 929.5,136.0 930.5,135.5 931.5,134.9 932.5,134.7 933.5,134.4 934.5,134.2 935.5,134.1 936.5,133.5 937.5,132.7 938.5,131.3 939.5,130.2 940.5,129.1 941.5,128.9 942.5,128.5 943.5,128.3 944.5,127.8 945.5,127.7 946.5,127.6 947.5,127.2 948.5,126.9 949.5,127.0 950.5,128.6 951.5,130.0 952.5,132.8 953.5,135.2 954.5,137.7 955.5,140.5 956.5,142.9 957.5,144.9 958.5,146.4 959.5,147.6 960.5,149.2 961.5,150.6 962.5,151.4 963.5,151.7 964.5,151.6 965.5,151.7 966.5,151.6 967.5,151.5 968.5,151.1 969.5,150.9 970.5,150.8 971.5,150.8 972.5,150.6 973.5,150.1 974.5,149.3 975.5,148.3 976.5,147.0 977.5,145.9 978.5,144.8 979.5,144.3 980.5,144.1 981.5,144.1 982.5,143.5 983.5,142.1 984.5,141.2 985.5,140.8 986.5,141.0 987.5,141.7 988.5,142.3 989.5,142.5 990.5,142.4 991.5,141.5 992.5,140.4 993.5,138.3 994.5,135.5 995.5,131.6 996.5,128.0 997.5,126.2 998.5,125.5 999.5,124.2 1000.5,121.7 1001.5,119.0 1002.5,117.0 1003.5,115.5 1004.5,112.9 1005.5,109.0 1006.5,104.8 1007.5,101.8 1008.5,100.6 1009.5,100.4 1010.5,99.9 1011.5,99.2 1012.5,98.4 1013.5,97.3 1014.5,95.8 1015.5,94.5 1016.5,93.5 1017.5,93.1 1018.5,93.1 1019.5,93.2 1020.5,93.5 1021.5,94.0 1022.5,94.5 1023.5,94.4 1024.5,93.5 1025.5,91.9 1026.5,90.2 1027.5,88.5 1028.5,87.5 1029.5,86.9 1030.5,85.9 1031.5,84.4 1032.5,82.5 1033.5,81.3 1034.5,80.5 1035.5,80.9 1036.5,81.4 1037.5,81.6 1038.5,80.5 1039.5,78.9 1040.5,77.8 1041.5,76.6 1042.5,74.7 1043.5,72.1 1044.5,70.7 1045.5,69.8 1046.5,68.8 1047.5,67.5 1048.5,65.8 1049.5,64.2 1050.5,62.1 1051.5,59.5 1052.5,56.5 1053.5,53.8 1054.5,51.9 1055.5,49.2 1056.5,47.2 1057.5,48.2 1058.5,53.2 1059.5,61.0 1060.5,68.3 1061.5,73.5 1062.5,77.1 1063.5,79.9 1064.5,81.7 1065.5,82.8 1066.5,82.9 1067.5,81.7 1068.5,80.4 1069.5,79.7 1070.5,80.3 1071.5,83.4 1072.5,90.9 1073.5,107.4 1074.5,123.1 1075.5,136.1 1076.5,145.4 1077.5,153.7 1078.5,162.0 1079.5,169.3 1080.5,174.0 1081.5,177.3 1082.5,181.1 1083.5,184.3 1084.5,187.3 1085.5,191.1 1086.5,195.3 1087.5,201.0 1088.5,217.7 1089.5,236.8 1090.5,250.1 1091.5,261.4 1092.5,272.2 1093.5,282.2 1094.5,294.1 1095.5,305.4 1096.5,313.4 1097.5,321.6 1098.5,326.6 1099.5,329.2 1100.5,333.3 1101.5,338.5 1102.5,342.9 1103.5,347.8 1104.5,354.5 1105.5,364.1 1106.5,372.9 1107.5,378.8 1108.5,384.6 1109.5,389.5 1110.5,395.4 1111.5,401.2 1112.5,405.0 1113.5,406.7 1114.5,407.5 1115.5,409.0 1116.5,409.3 1117.5,408.2 1118.5,406.9 1119.5,407.3 1120.5,406.7 1121.5,405.4 1122.5,404.5 1123.5,403.5 1124.5,402.3 1125.5,401.5 1126.5,401.7 1127.5,403.3 1128.5,405.9 1129.5,407.8 1130.5,410.9 1131.5,414.7 1132.5,419.2 1133.5,424.6 1134.5,429.4 1135.5,434.2 1136.5,438.8 1137.5,440.9 1138.5,443.1 1139.5,445.1 1140.5,446.3 1141.5,448.6 1142.5,451.9 1143.5,456.4 1144.5,460.3 1145.5,463.9 1146.5,467.7 1147.5,472.6 1148.5,474.3 1149.5,476.6 1150.5,478.6 1151.5,479.4 1152.5,481.4 1153.5,484.9 1154.5,488.4 1155.5,491.6 1156.5,495.5 1157.5,497.7 1158.5,501.6 1159.5,503.1 1160.5,504.6 1161.5,505.2 1162.5,504.1 1163.5,504.2 1164.5,502.5 1165.5,499.9 1166.5,497.8 1167.5,496.1 1168.5,494.9 1169.5,494.1 1170.5,493.6 1171.5,494.1" fill="none" stroke="#A0522D" stroke-width="1" /><polyline points="53.8,3.0 55.7,6.6 58.5,11.7 61.2,17.5 63.8,23.7 66.2,30.5 68.8,37.5 71.2,44.6 73.8,51.8 76.2,58.8 78.8,65.5 81.3,72.0 83.8,77.5 85.9,81.3 88.0,84.2 90.0,87.5 92.1,91.7 94.2,96.3 96.2,101.2 98.4,106.3 100.5,111.7 102.5,117.5 104.3,124.0 105.9,130.9 107.5,137.5 109.2,143.4 110.8,149.1 112.5,155.0 114.2,161.5 115.8,168.3 117.5,175.0 119.2,181.6 121.0,188.0 122.5,193.8 123.6,198.1 124.5,201.8 125.8,206.0 127.8,211.5 130.2,217.7 132.5,223.5 134.7,229.0 136.8,234.2 138.8,238.5 140.5,241.4 142.0,243.3 143.8,244.8 145.7,246.0 147.9,246.8 150.0,247.2 152.0,247.5 154.0,247.4 156.2,246.5 158.9,244.5 161.9,241.8 165.0,238.5 168.1,234.6 171.4,230.1 175.0,226.0 179.0,222.5 183.2,219.2 187.5,216.0 191.5,212.8 195.5,209.6 200.0,206.0 205.6,201.7 211.9,197.1 217.5,192.5 222.2,188.4 226.4,184.3 230.0,180.0 232.9,175.2 235.3,170.1 237.5,165.0 239.5,160.0 241.3,155.0 243.8,150.0 247.2,145.0 251.2,140.0 255.0,135.0 258.4,129.9 261.7,124.8 265.0,120.0 268.3,115.5 271.7,111.4 275.0,107.5 278.2,103.8 281.5,100.5 285.0,98.0 289.1,96.8 293.4,96.3 297.5,95.8 300.6,94.6 303.3,93.3 307.5,92.5 314.5,92.5 323.0,93.0 330.0,93.8 334.2,94.6 336.9,95.7 340.0,97.5 344.0,100.4 348.2,104.1 352.5,107.5 356.6,110.5 360.6,113.3 365.0,115.5 369.7,116.9 374.7,117.7 380.0,118.8 385.7,120.1 391.8,121.7 397.5,123.8 402.6,126.5 407.5,129.6 412.5,132.5 417.8,135.3 423.3,137.8 428.8,138.8 434.1,136.8 439.5,133.2 445.0,130.5 451.1,130.4 457.4,131.1 462.5,130.0 465.7,124.9 467.8,117.9 470.0,112.5 472.7,110.1 475.5,109.2 479.0,108.8 483.5,108.7 488.6,109.1 494.0,109.2 499.9,109.0 506.1,108.6 511.5,108.0 515.1,106.8 517.9,105.3 521.5,104.5 527.0,105.1 533.3,106.4 539.0,106.8 543.4,105.5 547.3,103.5 551.5,101.2 556.3,99.1 561.4,96.8 566.5,94.5 571.5,92.3 576.5,90.1 581.5,87.5 586.5,84.4 591.5,81.0 596.5,77.5 601.5,73.6 606.5,69.5 611.5,66.2 616.5,64.2 621.5,62.8 626.5,61.8 631.6,60.9 636.7,60.4 641.5,59.5 646.0,57.9 650.1,56.0 654.0,54.5 657.5,53.1 660.6,52.1 663.5,52.5 666.0,55.6 668.1,60.2 670.2,63.2 672.5,63.2 674.8,61.8 676.5,60.8 677.0,61.3 677.0,62.4 678.2,62.5 681.9,60.8 686.8,58.2 691.5,56.2 695.5,55.4 699.3,55.2 702.8,55.5 706.0,56.3 708.9,57.7 711.5,60.0 713.6,64.1 715.3,69.2 717.2,73.0 719.7,74.3 722.4,74.4 725.2,75.0 728.0,76.9 730.8,79.2 734.0,81.2 737.6,82.8 741.6,84.0 746.5,85.0 752.9,85.7 760.1,86.3 766.5,86.8 771.1,87.5 774.9,88.2 779.0,88.2 783.6,87.2 788.5,85.5 794.0,83.8 800.1,82.1 806.8,80.4 814.0,78.8 822.0,76.9 830.5,75.1 839.0,73.8 847.8,73.1 856.6,72.9 864.0,73.2 869.1,74.2 872.8,75.8 876.5,77.5 880.7,79.2 884.8,81.2 889.0,83.8 893.2,87.3 897.3,91.4 901.5,95.0 905.7,97.4 909.8,99.3 914.0,101.2 918.4,103.7 922.7,106.1 926.5,108.0 929.2,109.0 931.3,109.4 934.0,109.2 937.8,108.5 942.2,107.2 946.5,106.2 950.5,105.8 954.3,105.6 958.0,105.5 961.4,105.3 964.6,105.1 968.0,105.5 971.6,106.9 975.3,108.8 979.2,110.0 983.9,110.3 988.8,109.9 993.0,108.8 995.8,106.6 997.9,103.6 1000.5,100.0 1004.1,96.1 1008.3,91.6 1013.0,86.2 1018.6,79.5 1024.9,72.0 1030.5,65.0 1035.2,59.3 1039.3,54.1 1043.0,48.8 1046.4,42.6 1049.3,36.4 1051.8,31.2 1053.1,27.8 1054.0,25.4 1055.5,23.8 1058.5,23.2 1062.2,23.4 1065.5,23.2 1068.0,22.7 1070.0,21.8 1071.8,20.0 1073.0,16.6 1074.0,12.4 1075.0,8.8 1076.5,6.2 1078.1,4.3 1079.2,3.0" fill="none" stroke="#FF00FF" stroke-width="1" /><polyline points="2.5,190.0 6.9,194.1 13.3,200.0 20.0,206.0 26.4,211.6 33.1,217.4 40.0,223.5 47.4,230.0 55.1,236.7 62.5,243.5 69.3,250.3 75.7,257.0 82.5,263.5 89.9,269.6 97.6,275.4 105.0,281.0 112.0,286.4 118.8,291.6 125.0,296.0 130.6,299.5 135.6,302.1 140.0,304.0 143.7,305.0 146.9,305.1 150.0,304.8 153.1,303.9 156.3,302.5 160.0,301.0 164.6,299.5 169.8,297.9 175.0,296.5 179.9,295.4 184.8,294.4 190.0,293.5 195.6,292.8 201.4,292.1 207.5,291.0 214.1,289.3 220.9,287.2 227.5,284.8 233.4,281.8 239.1,278.4 245.0,274.8 251.5,270.8 258.2,266.6 265.0,262.2 271.7,257.7 278.3,253.0 285.0,248.5 291.7,244.3 298.3,240.2 305.0,236.0 311.9,231.4 318.7,226.6 325.0,222.2 330.5,218.5 335.4,215.2 340.0,212.2 344.0,209.9 347.7,208.0 352.5,206.0 359.2,203.7 366.9,201.3 375.0,198.8 383.1,195.9 391.6,193.0 400.0,190.0 408.7,186.9 417.4,183.8 425.0,181.2 430.5,179.5 434.8,178.3 440.0,177.5 447.5,176.9 455.8,176.7 462.5,176.8 466.1,177.3 467.9,178.1 470.0,178.8 472.3,179.1 474.8,179.3 479.0,179.5 486.1,179.6 494.9,179.8 504.0,180.0 513.8,180.4 523.9,181.0 531.5,181.8 534.1,183.1 534.2,184.6 536.5,185.0 543.3,183.5 552.2,180.8 561.5,178.0 570.7,175.3 580.1,172.6 589.0,170.0 596.7,167.6 603.8,165.5 611.5,163.8 620.4,162.7 629.8,162.1 639.0,161.2 648.0,160.1 656.7,158.7 664.0,157.0 669.0,154.8 672.6,152.4 676.5,150.0 681.2,147.9 686.2,145.9 691.5,143.8 697.4,141.3 703.6,138.6 709.0,136.2 712.5,134.4 715.2,132.7 719.0,131.2 725.1,129.8 732.3,128.5 739.0,127.5 744.4,126.9 749.2,126.6 754.0,126.2 758.9,125.8 763.8,125.4 769.0,125.0 774.6,124.6 780.6,124.2 786.5,124.2 792.1,125.0 797.6,126.3 804.0,127.5 811.8,128.5 820.4,129.5 829.0,130.5 837.3,131.6 845.7,132.7 854.0,133.8 862.5,134.8 871.0,135.9 879.0,137.0 886.2,138.1 892.9,139.1 899.0,140.0 904.2,140.8 908.8,141.4 914.0,142.0 920.5,142.5 927.5,142.9 934.0,143.0 939.6,142.8 944.6,142.3 949.0,142.0 952.0,142.0 954.4,142.1 958.0,142.5 963.9,143.3 971.1,144.3 978.0,145.0 984.0,145.2 989.8,145.1 995.5,144.5 1001.2,143.3 1007.0,141.6 1013.0,139.5 1019.5,137.1 1026.2,134.3 1033.0,131.2 1039.9,127.8 1046.9,124.2 1053.0,121.2 1057.9,119.4 1062.0,118.2 1065.5,117.5 1068.2,117.2 1070.3,117.4 1073.0,118.0 1076.9,119.0 1081.3,120.4 1085.5,122.5 1089.1,125.8 1092.4,129.9 1095.5,133.8 1098.1,136.6 1100.4,139.1 1103.0,142.5 1106.1,147.3 1109.4,153.0 1113.0,158.8 1117.1,164.5 1121.4,170.5 1125.5,176.2 1129.1,181.9 1132.4,187.3 1135.5,192.5 1138.2,196.9 1140.6,200.9 1143.5,206.0 1147.3,213.0 1151.5,221.0 1155.5,228.5 1159.2,235.0 1162.6,241.0 1165.5,246.0 1167.7,249.7 1169.4,252.5 1170.5,254.2" fill="none" stroke="#FF00FF" stroke-width="1" /><polyline points="3.0,429.0 4.8,431.0 7.4,433.9 10.0,437.0 12.5,440.3 15.0,443.8 17.5,447.0 20.0,449.7 22.6,452.1 25.0,454.0 27.1,455.1 29.0,455.8 31.2,457.0 33.9,459.4 36.9,462.4 40.0,465.0 43.4,466.9 46.9,468.4 50.0,469.5 52.3,470.3 54.1,470.7 56.2,470.8 59.0,470.4 62.1,469.7 65.0,468.2 67.5,465.8 69.9,462.6 72.5,459.5 75.8,456.6 79.4,453.9 82.5,452.0 84.4,451.6 85.7,452.0 87.5,452.0 90.2,451.3 93.3,450.2 96.2,448.2 98.9,445.1 101.4,441.2 103.8,437.0 106.0,432.5 108.1,427.7 110.0,423.2 111.7,419.6 113.2,416.3 115.0,412.0 117.2,405.9 119.7,398.9 122.5,392.2 125.7,386.4 129.2,380.9 132.5,376.0 135.4,371.6 138.2,367.7 141.2,364.8 144.8,363.3 148.6,362.8 152.5,362.2 156.8,360.9 161.2,359.4 165.0,359.0 167.6,360.2 169.6,362.5 172.5,364.8 176.9,366.8 182.2,368.8 187.5,371.0 192.5,373.5 197.5,376.2 202.5,378.5 207.5,379.9 212.5,381.0 217.5,382.2 222.6,384.0 227.7,386.0 232.5,388.5 236.8,391.8 240.7,395.5 245.0,398.5 249.9,400.2 255.1,401.2 260.0,402.2 264.4,403.9 268.4,405.5 272.5,406.0 276.7,404.9 280.8,402.8 285.0,399.8 289.1,395.8 293.1,391.0 297.5,386.0 302.3,380.9 307.4,375.5 312.5,369.8 317.7,363.4 322.9,356.6 327.5,349.8 331.2,342.7 334.4,335.5 337.5,328.5 340.9,321.4 344.4,314.4 347.5,308.5 350.0,304.5 352.3,301.6 355.0,298.5 358.4,294.4 362.2,290.0 366.2,286.0 370.5,283.1 375.0,280.7 380.0,277.2 385.6,272.1 391.7,266.0 397.5,259.8 402.6,253.6 407.4,247.4 412.5,241.0 418.2,233.7 424.3,226.4 430.0,221.5 435.2,220.9 440.1,222.7 445.0,224.0 450.4,223.1 455.7,221.6 460.0,221.5 462.4,223.6 463.7,227.1 465.0,231.0 466.5,235.7 468.0,240.8 470.0,244.8 473.0,246.4 476.5,246.8 479.0,247.2 478.7,248.4 477.5,249.6 479.0,250.5 486.1,250.7 496.0,250.5 504.0,250.5 507.9,250.8 509.8,251.4 511.5,252.2 512.3,253.8 512.9,255.7 516.5,257.2 526.0,258.0 538.6,258.4 549.0,258.5 554.7,258.5 558.3,258.3 561.5,258.0 564.9,257.5 568.1,256.9 571.5,256.5 575.5,256.4 579.7,256.5 584.0,256.8 588.2,257.1 592.4,257.7 596.5,258.5 600.2,259.7 603.9,261.1 607.8,262.2 611.9,262.7 616.4,262.8 621.5,263.0 627.8,263.3 634.9,263.7 641.5,264.0 647.6,264.2 653.3,264.3 657.8,264.2 660.3,264.3 661.6,264.2 662.8,263.0 664.1,260.1 665.4,256.2 666.5,252.2 667.4,248.2 668.1,244.1 669.5,241.0 672.1,239.6 675.3,239.2 677.8,238.5 678.3,237.1 678.1,235.5 679.0,234.0 682.2,233.0 686.5,232.2 690.2,231.0 692.7,229.0 694.6,226.7 696.5,224.8 698.5,223.8 700.5,223.3 702.2,222.2 703.7,220.0 705.1,217.2 706.5,214.8 708.2,212.9 710.1,211.2 711.5,209.8 712.1,208.8 712.3,208.0 712.8,206.0 713.6,201.7 714.8,196.2 716.5,191.2 719.0,187.5 722.1,184.3 725.2,181.2 728.0,178.1 730.8,175.1 734.0,172.5 737.8,170.5 742.0,168.8 746.5,167.5 751.3,166.6 756.4,165.9 761.5,165.0 766.8,163.5 772.1,161.7 776.5,160.5 779.3,160.1 781.2,160.2 784.0,161.2 788.4,163.6 793.7,166.8 799.0,170.0 804.0,173.0 809.0,176.0 814.0,178.8 819.1,181.0 824.2,183.0 829.0,185.0 833.2,187.2 837.1,189.4 841.5,191.2 847.1,192.8 853.2,194.1 859.0,195.0 864.2,195.5 869.1,195.7 874.0,195.5 879.0,194.9 884.0,193.9 889.0,192.5 894.0,190.6 899.0,188.4 904.0,186.2 909.0,184.2 914.1,182.2 919.0,180.5 923.7,179.3 928.2,178.4 932.8,178.0 937.4,178.1 942.1,178.7 946.5,179.5 950.5,180.5 954.2,181.6 958.0,182.5 962.1,183.0 966.3,183.3 970.5,183.2 974.8,182.7 979.0,181.9 983.0,181.2 986.6,180.9 989.9,180.9 993.0,181.2 996.0,182.3 998.9,183.7 1001.8,185.5 1004.5,187.7 1007.3,190.2 1010.5,192.5 1014.5,194.3 1018.9,195.9 1023.0,197.5 1026.5,199.2 1029.8,201.0 1033.0,202.5 1036.2,203.4 1039.4,204.0 1043.0,205.5 1047.3,209.1 1052.0,213.6 1056.8,216.5 1061.8,216.1 1066.8,214.2 1070.5,213.5 1071.9,214.9 1072.0,217.6 1072.5,221.0 1074.0,225.4 1075.9,230.7 1078.0,236.0 1080.5,240.6 1083.3,245.3 1085.5,251.0 1086.7,258.6 1087.4,267.3 1088.0,276.0 1088.8,284.1 1089.6,292.3 1090.5,301.0 1091.7,310.9 1093.0,321.4 1094.2,331.0 1095.1,339.0 1095.8,346.1 1096.8,353.5 1098.3,361.7 1100.2,370.3 1101.8,378.5 1102.7,386.6 1103.3,394.4 1103.8,401.0 1103.8,404.6 1103.8,406.9 1104.2,412.0 1105.8,422.2 1108.0,435.2 1110.0,447.8 1111.5,459.3 1112.8,470.4 1114.2,480.5 1115.5,489.0 1116.9,496.6 1118.4,504.7 1120.2,513.9 1122.1,523.7 1124.2,534.5 1126.8,548.0 1129.5,562.4 1131.5,572.6" fill="none" stroke="#FF00FF" stroke-width="1" /><polyline points="2.5,253.5 5.3,256.0 9.4,259.6 13.8,263.3 17.5,266.0 20.3,267.2 22.7,267.5 24.9,267.7 27.5,268.5 30.4,270.2 33.4,272.5 36.6,274.9 40.0,277.2 43.5,279.6 47.2,282.0 51.0,284.2 55.0,286.0 59.3,287.1 63.9,287.8 68.4,288.3 72.5,289.2 76.0,290.7 79.2,292.5 82.2,294.4 85.0,296.0 87.4,297.5 89.5,298.8 91.9,300.1 95.0,301.0 99.2,301.5 104.2,301.7 109.6,301.8 115.0,302.2 120.7,303.1 126.7,304.3 132.5,305.4 137.5,306.0 141.3,306.1 144.4,305.9 147.1,305.3 150.0,304.2 153.1,302.7 156.2,300.6 159.4,298.3 162.5,296.0 165.6,293.7 168.6,291.2 171.7,288.6 175.0,286.0 178.6,283.2 182.3,280.3 186.2,277.4 190.0,274.8 193.6,272.4 197.2,270.3 200.9,268.2 205.0,266.0 209.9,263.6 215.3,261.0 220.6,258.4 225.0,256.0 228.1,253.9 230.3,252.0 232.4,249.9 235.0,247.2 238.4,243.6 242.2,239.3 246.1,234.9 250.0,231.0 253.6,227.9 257.2,225.2 260.9,222.6 265.0,219.8 269.8,216.3 275.0,212.5 280.2,208.9 285.0,206.0 288.9,204.2 292.3,203.1 295.8,202.2 300.0,201.2 305.3,200.1 311.4,198.9 317.4,197.7 322.5,196.2 326.3,194.5 329.4,192.5 332.1,190.5 335.0,188.8 338.2,187.3 341.4,186.0 344.6,185.1 347.5,184.5 350.1,184.5 352.3,185.0 354.7,185.6 357.5,186.2 360.8,186.9 364.5,187.7 368.5,188.4 372.5,188.8 376.8,188.8 381.2,188.6 385.7,188.2 390.0,187.5 393.8,186.6 397.3,185.4 401.0,184.0 405.0,182.5 409.6,180.8 414.7,178.9 419.9,176.9 425.0,175.0 430.1,173.1 435.2,171.1 440.2,169.4 445.0,168.2 449.8,167.8 454.7,168.0 459.1,168.5 462.5,169.5 464.6,171.1 465.8,173.2 466.5,175.5 467.5,177.5 468.7,179.3 469.9,181.1 471.1,182.6 472.5,183.8 473.7,184.3 474.8,184.5 476.4,184.4 479.0,184.5 483.1,184.7 488.3,184.8 493.9,185.0 499.0,185.5 503.7,186.6 508.2,188.0 512.5,189.3 516.5,190.0 519.9,189.9 522.9,189.3 525.8,188.3 529.0,187.0 532.5,185.3 536.0,183.3 539.8,181.1 544.0,178.8 548.8,176.3 554.0,173.7 559.2,171.1 564.0,168.8 568.0,166.7 571.7,165.0 575.2,163.2 579.0,161.2 583.2,159.0 587.6,156.7 592.1,154.3 596.5,152.0 600.8,149.6 605.1,147.2 609.4,145.0 614.0,143.2 618.7,142.2 623.5,141.5 628.6,141.1 634.0,140.5 640.0,139.8 646.5,139.0 653.0,138.1 659.0,137.0 664.4,135.5 669.3,133.8 674.1,132.0 679.0,130.0 684.2,127.8 689.5,125.4 694.5,123.1 699.0,121.2 702.6,120.0 705.6,119.1 708.4,118.5 711.5,118.0 715.1,117.6 719.0,117.3 722.9,117.3 726.5,117.5 729.7,118.0 732.8,118.9 735.8,119.8 739.0,120.8 742.5,121.7 746.0,122.7 749.8,123.7 754.0,124.5 758.9,125.2 764.4,125.7 769.7,126.2 774.0,126.8 776.8,127.1 778.6,127.4 780.3,127.9 782.8,128.8 786.2,130.3 790.2,132.2 794.5,134.3 799.0,136.2 803.7,137.9 808.8,139.5 813.9,141.1 819.0,142.5 824.1,143.9 829.3,145.3 834.4,146.5 839.0,147.5 843.1,148.2 846.8,148.8 850.4,149.1 854.0,149.2 857.8,149.1 861.5,148.7 865.2,148.1 869.0,147.5 872.6,146.8 876.2,146.0 879.9,145.2 884.0,144.5 888.8,144.1 894.0,143.9 899.2,143.6 904.0,143.0 908.0,142.0 911.5,140.6 915.0,139.3 919.0,138.2 923.9,137.6 929.2,137.2 934.5,137.0 939.0,136.8 942.5,136.5 945.4,136.2 947.9,136.1 950.2,136.2 952.3,136.8 953.9,137.6 955.6,138.6 958.0,139.5 961.2,140.5 964.9,141.5 968.9,142.4 973.0,143.0 977.3,143.2 982.0,143.1 986.5,142.7 990.5,142.0 993.7,141.0 996.4,139.7 998.9,138.1 1001.8,136.2 1005.0,134.1 1008.4,131.6 1011.9,128.9 1015.5,126.2 1019.2,123.6 1022.9,120.8 1026.7,117.9 1030.5,115.0 1034.4,111.9 1038.3,108.8 1042.1,105.6 1045.5,102.5 1048.6,99.3 1051.3,96.0 1053.8,93.1 1056.0,91.2 1057.7,90.8 1058.9,91.4 1060.1,92.4 1061.8,93.0 1064.1,92.8 1066.9,92.4 1069.6,92.2 1071.8,93.0 1073.0,95.1 1073.8,98.1 1074.4,101.5 1075.5,105.0 1077.2,108.5 1079.2,112.3 1081.2,116.2 1083.0,120.0 1084.4,123.6 1085.7,127.2 1086.8,130.9 1088.0,135.0 1089.2,139.5 1090.5,144.4 1091.8,149.5 1093.0,155.0 1094.2,160.9 1095.4,167.1 1096.7,173.6 1098.0,180.0 1099.5,186.4 1101.0,192.8 1102.7,199.4 1104.2,206.0 1105.8,212.8 1107.3,219.8 1108.8,226.8 1110.5,233.5 1112.2,239.9 1113.9,246.0 1115.8,252.1 1118.0,258.5 1120.6,265.3 1123.6,272.2 1126.6,279.2 1129.2,286.0 1131.4,292.5 1133.2,298.8 1135.0,305.0 1136.8,311.0 1138.7,316.9 1140.7,322.6 1142.6,328.2 1144.2,333.5 1145.6,338.5 1146.8,343.1 1148.0,347.7 1149.2,352.2 1150.8,357.0 1152.4,361.9 1154.0,366.6 1155.5,371.0 1156.8,375.1 1158.0,378.9 1159.2,382.5 1160.5,386.0 1162.0,389.4 1163.7,392.7 1165.3,395.8 1166.8,398.5 1168.1,400.9 1169.3,403.0 1170.3,404.8 1171.0,406.0" fill="none" stroke="#0000FF" stroke-width="2" stroke-linejoin="round"/><polyline points="2.5,209.8 4.7,211.8 7.8,214.8 11.4,218.1 15.0,221.0 18.5,223.2 22.0,225.1 25.8,227.2 30.0,229.8 34.6,233.2 39.7,237.2 44.9,241.2 50.0,244.8 54.9,247.5 59.7,249.8 64.6,252.1 70.0,254.8 76.0,258.1 82.5,261.8 89.0,265.4 95.0,268.5 100.4,270.7 105.3,272.5 110.1,274.0 115.0,275.5 120.1,277.2 125.3,278.9 130.4,280.4 135.0,281.8 139.1,282.9 142.8,283.8 146.4,284.5 150.0,284.8 153.8,284.6 157.5,284.0 161.2,283.2 165.0,282.2 168.7,281.2 172.3,280.0 176.1,278.6 180.0,277.2 184.3,275.7 188.8,274.0 193.2,272.4 197.5,271.0 201.4,269.9 205.0,269.1 208.6,268.3 212.5,267.2 216.6,266.1 220.9,264.9 225.4,263.4 230.0,261.5 234.8,259.0 239.8,256.0 244.9,252.8 250.0,249.8 255.0,246.9 260.0,244.1 265.0,241.3 270.0,238.5 275.0,235.6 280.0,232.6 285.0,229.8 290.0,227.2 295.1,225.1 300.3,223.1 305.4,221.4 310.0,219.8 314.0,218.4 317.7,217.3 321.2,216.2 325.0,214.8 329.1,212.7 333.4,210.3 337.9,207.9 342.5,206.0 347.3,204.7 352.2,203.9 357.3,203.2 362.5,202.5 368.0,201.9 373.8,201.3 379.5,200.8 385.0,200.0 390.2,199.0 395.2,197.7 400.1,196.4 405.0,195.0 410.0,193.5 415.0,192.0 420.0,190.3 425.0,188.8 430.1,187.1 435.2,185.3 440.2,183.7 445.0,182.5 449.8,181.7 454.5,181.2 458.9,181.0 462.5,181.2 465.0,182.1 466.8,183.6 468.3,185.1 470.0,186.2 472.0,186.9 474.0,187.2 476.3,187.4 479.0,187.5 482.3,187.6 486.1,187.5 490.1,187.5 494.0,187.5 497.9,187.5 502.0,187.6 505.8,187.7 509.0,188.0 511.3,188.6 512.9,189.5 514.4,190.2 516.5,190.5 519.2,190.2 522.3,189.4 525.6,188.4 529.0,187.5 532.5,186.7 536.0,185.9 539.8,185.0 544.0,183.8 548.5,182.2 553.4,180.4 558.5,178.4 564.0,176.2 570.0,174.0 576.3,171.6 582.8,169.1 589.0,166.8 594.8,164.4 600.4,162.0 605.9,159.9 611.5,158.0 617.1,156.6 622.6,155.6 628.2,154.7 634.0,153.8 640.2,152.7 646.7,151.6 653.0,150.5 659.0,149.2 664.4,147.9 669.3,146.5 674.1,144.9 679.0,143.2 684.1,141.3 689.2,139.0 694.2,136.8 699.0,135.0 703.6,133.6 708.1,132.4 712.4,131.5 716.5,130.8 720.2,130.2 723.7,129.8 727.3,129.6 731.5,129.5 736.5,129.6 742.1,129.9 748.0,130.3 754.0,130.5 760.3,130.5 767.0,130.3 773.4,130.2 779.0,130.5 783.3,131.3 786.8,132.5 790.1,133.9 794.0,135.0 798.5,135.9 803.4,136.6 808.5,137.4 814.0,138.2 820.0,139.3 826.5,140.5 833.0,141.6 839.0,142.5 844.4,143.1 849.3,143.5 854.1,143.7 859.0,143.8 864.0,143.6 869.0,143.2 874.0,142.8 879.0,142.5 884.0,142.4 889.0,142.3 894.0,142.2 899.0,142.0 903.9,141.6 908.7,141.1 913.6,140.5 919.0,140.0 925.2,139.5 932.1,139.0 938.7,138.5 944.0,138.2 947.7,138.2 950.3,138.3 952.3,138.5 954.0,138.8 955.2,139.1 955.7,139.6 956.4,140.1 958.0,140.5 960.9,140.9 964.7,141.4 968.8,141.8 973.0,142.0 977.3,142.1 981.8,142.0 986.2,141.8 990.5,141.2 994.4,140.3 998.0,139.1 1001.6,137.7 1005.5,136.2 1009.7,134.8 1014.1,133.4 1018.6,131.8 1023.0,130.0 1027.4,128.0 1031.8,125.9 1036.2,123.7 1040.5,121.2 1044.7,118.4 1048.9,115.2 1052.9,112.2 1056.8,110.0 1060.6,108.7 1064.3,108.1 1067.7,108.0 1070.5,108.2 1072.2,109.0 1073.2,110.3 1074.1,111.9 1075.5,113.8 1077.7,115.8 1080.3,118.1 1083.1,120.7 1085.5,123.8 1087.5,127.3 1089.3,131.2 1091.1,135.5 1093.0,140.0 1095.1,144.7 1097.3,149.6 1099.5,154.7 1101.8,160.0 1103.9,165.4 1106.0,171.0 1108.2,176.7 1110.5,182.5 1112.9,188.4 1115.4,194.5 1118.0,200.4 1120.5,206.0 1123.0,210.9 1125.5,215.4 1128.0,219.8 1130.5,224.8 1133.0,230.3 1135.5,236.3 1138.0,242.4 1140.5,248.5 1143.0,254.5 1145.6,260.5 1148.1,266.5 1150.5,272.2 1152.8,277.9 1155.1,283.6 1157.3,288.9 1159.2,293.5 1161.0,297.3 1162.6,300.5 1164.0,303.3 1165.5,306.0 1167.1,308.8 1168.6,311.5 1170.0,313.9 1171.0,315.5" fill="none" stroke="#FF0000" stroke-width="2" stroke-linejoin="round"/><polyline points="2.5,278.5 3.3,278.5 4.4,278.6 5.8,278.9 7.5,279.8 9.6,281.7 12.2,284.4 14.9,287.0 17.5,288.5 19.9,288.3 22.3,286.9 24.8,285.6 27.5,285.5 30.4,287.3 33.6,290.2 36.8,293.4 40.0,296.0 43.0,298.1 45.9,300.0 49.0,301.5 52.5,302.2 56.6,301.8 61.2,300.5 65.9,299.2 70.0,299.0 73.5,300.3 76.6,302.6 79.5,305.1 82.5,307.2 85.7,309.1 88.9,310.8 92.1,312.3 95.0,313.0 97.6,312.8 99.8,311.8 102.2,310.6 105.0,309.8 108.4,309.3 112.2,309.0 116.1,308.8 120.0,309.0 123.8,309.8 127.7,311.0 131.4,312.0 135.0,312.2 138.4,311.4 141.6,309.7 144.6,307.8 147.5,306.0 150.2,304.7 152.7,303.7 155.1,302.2 157.5,299.8 160.0,295.8 162.5,290.8 165.0,285.5 167.5,281.0 169.9,277.4 172.3,274.2 174.8,271.3 177.5,268.5 180.4,265.7 183.6,263.1 186.8,260.7 190.0,258.5 193.1,256.6 196.2,254.9 199.4,253.5 202.5,252.2 205.6,251.5 208.8,251.2 211.9,250.7 215.0,249.8 218.2,248.1 221.6,246.0 224.7,243.6 227.5,241.0 229.7,238.2 231.4,235.1 233.1,231.8 235.0,228.5 237.3,225.0 239.7,221.4 242.3,217.9 245.0,214.8 247.9,212.2 251.1,210.0 254.3,208.1 257.5,206.0 260.5,203.9 263.4,201.9 266.5,199.8 270.0,197.5 274.1,194.6 278.8,191.2 283.4,188.2 287.5,186.2 290.7,186.0 293.4,187.0 296.3,188.2 300.0,188.8 305.2,188.5 311.2,187.9 317.3,186.9 322.5,185.5 326.4,183.5 329.5,180.9 332.2,178.3 335.0,176.2 338.0,174.7 340.9,173.4 343.6,172.6 346.2,172.5 348.4,173.3 350.2,174.8 352.3,176.7 355.0,178.8 358.8,181.1 363.2,183.9 367.9,186.4 372.5,188.0 376.9,188.4 381.4,188.1 385.8,187.3 390.0,186.2 393.9,185.0 397.7,183.5 401.3,181.8 405.0,180.0 408.8,178.3 412.5,176.5 416.2,174.6 420.0,172.5 423.8,170.0 427.7,167.3 431.5,164.6 435.0,162.5 438.0,160.9 440.7,159.6 443.3,158.8 446.2,158.8 449.7,159.3 453.4,160.4 456.9,162.2 460.0,165.0 462.4,169.4 464.3,175.0 465.9,180.6 467.5,185.0 468.9,187.7 470.1,189.5 471.2,190.5 472.5,191.2 473.9,191.5 475.4,191.2 477.1,190.6 479.0,190.0 481.1,189.3 483.5,188.5 486.1,187.8 489.0,187.5 492.6,187.8 496.7,188.4 500.7,189.3 504.0,190.0 506.5,190.5 508.4,191.0 510.0,191.6 511.5,192.5 512.9,194.1 514.2,196.2 515.3,198.0 516.5,198.8 517.6,198.1 518.6,196.4 519.8,194.4 521.5,192.5 523.9,191.1 526.7,189.7 529.8,188.2 532.8,186.2 535.6,183.8 538.5,180.9 541.3,177.8 544.0,175.0 546.6,172.4 549.1,169.8 551.5,167.3 554.0,165.0 556.5,162.9 559.0,160.9 561.5,159.1 564.0,157.5 566.4,156.4 568.7,155.7 571.1,155.0 574.0,153.8 577.4,151.9 581.2,149.7 585.1,147.3 589.0,145.0 592.9,142.7 597.0,140.4 600.8,138.2 604.0,136.2 606.3,134.5 608.1,132.9 609.6,131.6 611.5,130.8 613.6,130.6 615.7,130.9 618.2,131.5 621.5,132.0 625.9,132.5 631.0,133.1 636.4,133.6 641.5,133.8 646.1,133.5 650.6,133.0 654.9,132.2 659.0,131.2 662.9,130.1 666.5,128.7 670.1,127.0 674.0,125.0 678.4,122.4 683.1,119.2 687.6,116.2 691.5,113.8 694.5,112.2 696.8,111.1 699.0,110.5 701.5,110.0 704.4,109.8 707.6,109.8 710.8,110.1 714.0,110.5 717.1,111.0 720.2,111.7 723.4,112.6 726.5,113.8 729.6,115.2 732.6,117.0 735.7,118.9 739.0,120.8 742.6,122.6 746.3,124.4 750.2,126.1 754.0,127.5 757.8,128.5 761.7,129.2 765.4,129.7 769.0,130.0 772.4,129.7 775.6,129.1 778.6,128.5 781.5,128.8 784.1,130.0 786.5,132.0 788.9,134.2 791.5,136.2 794.4,138.2 797.4,140.2 800.6,142.1 804.0,143.8 807.6,145.2 811.3,146.4 815.2,147.6 819.0,148.8 822.9,150.1 827.0,151.4 830.8,152.7 834.0,153.8 836.3,154.7 837.9,155.5 839.4,156.0 841.5,156.2 844.2,156.0 847.3,155.5 850.6,154.7 854.0,153.8 857.6,152.7 861.3,151.4 865.2,150.1 869.0,148.8 872.7,147.4 876.3,146.0 880.1,144.7 884.0,143.8 888.3,143.3 892.9,143.2 897.4,143.0 901.5,142.5 904.9,141.3 907.9,139.8 910.8,138.2 914.0,137.0 917.6,136.4 921.3,136.1 925.2,135.9 929.0,135.5 933.0,134.8 937.0,134.0 940.9,133.2 944.0,132.5 946.1,131.7 947.6,130.8 948.8,130.3 950.2,130.8 952.0,132.7 953.7,135.7 955.7,138.8 958.0,141.2 960.6,142.7 963.5,143.7 966.7,144.3 970.5,144.5 975.2,144.5 980.6,144.2 985.9,143.4 990.5,142.0 993.9,139.7 996.7,136.7 999.1,133.3 1001.8,130.0 1004.5,126.6 1007.3,123.0 1010.1,119.5 1013.0,116.2 1016.0,113.5 1019.2,111.2 1022.3,108.8 1025.5,106.2 1028.7,103.3 1031.9,100.1 1035.1,96.8 1038.0,93.8 1040.7,90.8 1043.3,88.0 1045.7,85.2 1048.0,82.5 1050.2,79.3 1052.2,75.9 1054.1,73.1 1056.0,71.8 1057.8,72.6 1059.5,75.0 1061.2,77.9 1063.0,80.0 1064.9,80.7 1067.0,80.7 1068.9,81.0 1070.5,82.5 1071.7,85.8 1072.6,90.3 1073.4,95.3 1074.2,100.0 1075.2,104.4 1076.0,108.8 1077.0,113.1 1078.0,117.5 1079.2,121.9 1080.5,126.4 1081.8,130.8 1083.0,135.0 1084.1,138.7 1085.0,142.0 1085.9,145.6 1086.8,150.0 1087.4,155.4 1088.0,161.5 1088.6,168.1 1089.2,175.0 1090.1,182.5 1091.0,190.5 1091.9,198.5 1093.0,206.0 1094.2,212.6 1095.4,218.7 1096.7,224.7 1098.0,231.0 1099.3,237.8 1100.6,244.8 1101.8,251.7 1103.0,258.5 1104.0,265.0 1105.0,271.3 1105.8,277.5 1106.8,283.5 1107.7,289.4 1108.5,295.1 1109.5,300.6 1110.5,306.0 1111.6,311.1 1112.8,316.0 1114.0,320.9 1115.5,326.0 1117.2,331.6 1119.1,337.4 1121.1,343.2 1123.0,348.5 1124.9,353.2 1126.9,357.4 1128.8,361.6 1130.5,366.0 1131.9,370.9 1133.2,376.2 1134.3,381.3 1135.5,386.0 1136.8,390.2 1138.1,394.1 1139.3,397.6 1140.5,401.0 1141.4,403.7 1142.2,406.0 1143.0,408.4 1144.2,412.0 1146.0,417.2 1148.2,423.4 1150.4,429.9 1152.3,435.7 1153.8,440.9 1155.0,445.8 1156.1,450.2 1157.2,453.9 1158.1,456.8 1158.9,459.0 1159.7,460.8 1160.8,462.4 1162.2,463.6 1163.8,464.3 1165.4,465.0 1166.9,466.0 1168.1,467.5 1169.3,469.3 1170.4,470.9 1171.1,472.1" fill="none" stroke="#058505" stroke-width="2" stroke-linejoin="round"/><path d="M3 350.5H1846M3 500.5H1846" stroke="#FF0000" stroke-width="1"/><path d="M3 503.5H1846" stroke="#000" stroke-width="1"/><path d="M1088 384L1125 391.5" stroke="#0B60B5" stroke-width="1" stroke-dasharray="3 3" fill="none"/><path d="M1102.5 383.5L1125 391.5" stroke="#0B60B5" stroke-width="1" stroke-dasharray="3 3" fill="none"/><path d="M1094 392.5L1124 392.5" stroke="#0B60B5" stroke-width="1" stroke-dasharray="3 3" fill="none"/><path d="M1105 427L1126 409.5" stroke="#0B60B5" stroke-width="1" stroke-dasharray="3 3" fill="none"/><path d="M1114 436L1127 420" stroke="#0B60B5" stroke-width="1" stroke-dasharray="3 3" fill="none"/><path d="M1137 486L1162 476" stroke="#0B60B5" stroke-width="1" stroke-dasharray="3 3" fill="none"/><path d="M1137 489L1163 480" stroke="#0B60B5" stroke-width="1" stroke-dasharray="3 3" fill="none"/><path d="M1146 498L1167 490" stroke="#0B60B5" stroke-width="1" stroke-dasharray="3 3" fill="none"/><path d="M1146 510L1168 492" stroke="#0B60B5" stroke-width="1" stroke-dasharray="3 3" fill="none"/><path d="M1157 531L1171.5 504" stroke="#0B60B5" stroke-width="1" stroke-dasharray="3 3" fill="none"/><g shape-rendering="auto"><polygon points="1087.5,385 1093.0,390.5 1090.0,390.5 1090.0,394 1085.0,394 1085.0,390.5 1082.0,390.5" fill="#0B60B5" stroke="#fff" stroke-width="2" paint-order="stroke" stroke-linejoin="miter"/><polygon points="1088.5,395 1094.0,400.5 1091.0,400.5 1091.0,404 1086.0,404 1086.0,400.5 1083.0,400.5" fill="#0B60B5" stroke="#fff" stroke-width="2" paint-order="stroke" stroke-linejoin="miter"/><polygon points="1102.5,385 1108.0,390.5 1105.0,390.5 1105.0,394 1100.0,394 1100.0,390.5 1097.0,390.5" fill="#0B60B5" stroke="#fff" stroke-width="2" paint-order="stroke" stroke-linejoin="miter"/><polygon points="1104.5,430 1110.0,435.5 1107.0,435.5 1107.0,439 1102.0,439 1102.0,435.5 1099.0,435.5" fill="#0B60B5" stroke="#fff" stroke-width="2" paint-order="stroke" stroke-linejoin="miter"/><polygon points="1105.5,453 1111.0,458.5 1108.0,458.5 1108.0,462 1103.0,462 1103.0,458.5 1100.0,458.5" fill="#0B60B5" stroke="#fff" stroke-width="2" paint-order="stroke" stroke-linejoin="miter"/><polygon points="1136.5,486 1142.0,491.5 1139.0,491.5 1139.0,495 1134.0,495 1134.0,491.5 1131.0,491.5" fill="#0B60B5" stroke="#fff" stroke-width="2" paint-order="stroke" stroke-linejoin="miter"/><polygon points="1145.5,498 1151.0,503.5 1148.0,503.5 1148.0,507 1143.0,507 1143.0,503.5 1140.0,503.5" fill="#0B60B5" stroke="#fff" stroke-width="2" paint-order="stroke" stroke-linejoin="miter"/><polygon points="1145.5,510 1151.0,515.5 1148.0,515.5 1148.0,519 1143.0,519 1143.0,515.5 1140.0,515.5" fill="#0B60B5" stroke="#fff" stroke-width="2" paint-order="stroke" stroke-linejoin="miter"/><polygon points="1156.5,533 1162.0,538.5 1159.0,538.5 1159.0,542 1154.0,542 1154.0,538.5 1151.0,538.5" fill="#0B60B5" stroke="#fff" stroke-width="2" paint-order="stroke" stroke-linejoin="miter"/><polygon points="1125.5,391 1131.0,385.5 1128.0,385.5 1128.0,381.5 1123.0,381.5 1123.0,385.5 1120.0,385.5" fill="#E2451C" stroke="#fff" stroke-width="2" paint-order="stroke" stroke-linejoin="miter"/><polygon points="1126.5,407 1132.0,401.5 1129.0,401.5 1129.0,397.5 1124.0,397.5 1124.0,401.5 1121.0,401.5" fill="#E2451C" stroke="#fff" stroke-width="2" paint-order="stroke" stroke-linejoin="miter"/><polygon points="1126.5,419 1132.0,413.5 1129.0,413.5 1129.0,409.5 1124.0,409.5 1124.0,413.5 1121.0,413.5" fill="#E2451C" stroke="#fff" stroke-width="2" paint-order="stroke" stroke-linejoin="miter"/><polygon points="1162.5,476 1168.0,470.5 1165.0,470.5 1165.0,466.5 1160.0,466.5 1160.0,470.5 1157.0,470.5" fill="#E2451C" stroke="#fff" stroke-width="2" paint-order="stroke" stroke-linejoin="miter"/><polygon points="1163.0,480 1168.5,474.5 1165.5,474.5 1165.5,470.5 1160.5,470.5 1160.5,474.5 1157.5,474.5" fill="#E2451C" stroke="#fff" stroke-width="2" paint-order="stroke" stroke-linejoin="miter"/><polygon points="1167.5,490 1173.0,484.5 1170.0,484.5 1170.0,480.5 1165.0,480.5 1165.0,484.5 1162.0,484.5" fill="#E2451C" stroke="#fff" stroke-width="2" paint-order="stroke" stroke-linejoin="miter"/><polygon points="1170.5,502 1176.0,496.5 1173.0,496.5 1173.0,492.5 1168.0,492.5 1168.0,496.5 1165.0,496.5" fill="#E2451C" stroke="#fff" stroke-width="2" paint-order="stroke" stroke-linejoin="miter"/></g></g><g clip-path="url(#cs)"><path d="M3 641.5H1846M3 755.5H1846" stroke="#000" stroke-width="1"/><polyline points="2.9,665.1 3.2,667.4 3.7,670.5 4.3,674.3 4.9,678.4 5.5,682.7 6.1,686.9 6.6,691.1 7.2,695.6 7.8,700.2 8.4,704.8 9.0,709.3 9.7,713.5 10.4,717.8 11.3,722.3 12.1,726.7 13.0,730.5 13.8,733.5 14.5,735.3 15.2,735.6 15.8,734.7 16.3,732.9 16.9,730.5 17.5,728.0 18.2,725.6 18.9,723.2 19.8,720.5 20.7,717.6 21.5,714.6 22.3,711.6 23.0,708.6" fill="none" stroke="#FFA07A" stroke-width="2" stroke-linejoin="round"/><polyline points="23.0,708.6 23.5,705.8 24.0,702.8 24.4,699.9 24.7,697.0 25.0,694.2 25.4,691.7 25.8,689.2 26.2,686.6 26.6,684.1 27.0,682.0 27.4,680.4 27.8,679.6 28.2,679.7 28.7,680.5 29.1,681.9 29.5,683.5 29.9,685.3 30.3,686.9 30.7,688.2 31.0,689.5 31.4,690.9 31.8,692.5 32.2,694.3 32.7,696.5" fill="none" stroke="#1EB4F0" stroke-width="2" stroke-linejoin="round"/><polyline points="32.7,696.5 33.2,699.3 33.7,702.6 34.2,706.1 34.8,709.7 35.3,713.1 35.8,715.9 36.3,718.4 36.8,720.8 37.3,722.9 37.8,724.7 38.3,726.0 38.7,726.8 39.2,727.0 39.6,726.5 40.0,725.7 40.4,724.5 40.8,723.2 41.2,722.0 41.5,720.5 41.7,718.8 42.0,716.9 42.3,715.1 42.8,713.5 43.6,712.3 44.7,711.7 46.1,711.6 47.7,711.8 49.4,712.0 50.9,711.8 52.1,711.1" fill="none" stroke="#FFA07A" stroke-width="2" stroke-linejoin="round"/><polyline points="52.1,711.1 52.9,709.7 53.6,708.0 54.1,706.0 54.6,703.8 55.1,701.4 55.7,699.0 56.4,696.2 57.3,692.9 58.2,689.5 59.0,686.3 59.8,683.7 60.5,682.0 61.1,681.5 61.6,682.1 62.1,683.1 62.5,684.4 63.0,685.4 63.4,685.6 63.9,685.2 64.5,684.2 65.0,683.0 65.5,681.7 66.0,680.5 66.6,679.6 67.2,678.8 67.8,678.1 68.5,677.4 69.1,676.9 69.7,676.7 70.2,676.7 70.6,677.0 71.0,677.7 71.3,678.6 71.6,679.6 71.9,680.8 72.2,682.0 72.4,683.3 72.7,684.6 72.9,686.1 73.2,687.8 73.5,689.6 73.8,691.7" fill="none" stroke="#1EB4F0" stroke-width="2" stroke-linejoin="round"/><polyline points="73.8,691.7 74.3,694.2 74.9,697.0 75.5,700.0 76.2,703.1 76.9,706.0 77.5,708.6 78.1,711.1 78.7,713.5 79.3,715.8 79.9,717.9 80.5,719.6 81.1,720.8 81.7,721.3 82.3,721.3 82.9,720.9 83.5,720.3 84.1,719.8 84.7,719.5 85.4,719.6 86.0,719.7 86.6,719.9 87.2,720.0 87.8,719.9 88.4,719.5 89.0,718.7 89.6,717.7 90.2,716.4 90.8,715.0 91.4,713.6 92.0,712.3 92.6,711.2 93.2,710.2 93.8,709.2 94.4,708.1 95.0,706.7 95.6,705.0" fill="none" stroke="#FFA07A" stroke-width="2" stroke-linejoin="round"/><polyline points="95.6,705.0 96.2,702.8 96.9,700.2 97.5,697.4 98.1,694.5 98.7,691.7 99.3,689.3 99.9,687.1 100.5,685.1 101.1,683.2 101.7,681.5 102.3,679.9 102.9,678.4 103.5,676.9 104.1,675.4 104.8,674.1 105.4,673.0 106.0,672.4 106.5,672.3 107.1,673.0 107.6,674.4 108.0,676.2 108.5,678.2 109.0,680.2 109.4,682.0 110.0,683.7 110.5,685.4 111.0,687.1 111.6,688.7 112.1,690.3 112.6,691.7" fill="none" stroke="#1EB4F0" stroke-width="2" stroke-linejoin="round"/><polyline points="112.6,691.7 113.0,693.0 113.3,694.3 113.6,695.4 114.0,696.4 114.4,697.2 115.0,697.7 115.8,697.9 116.8,697.7 117.9,697.4 119.0,696.9 120.1,696.6 121.1,696.5 121.9,696.7 122.8,697.0 123.6,697.4 124.3,697.8 125.1,698.4 125.9,699.0 126.7,699.6 127.5,700.4 128.3,701.2 129.1,702.1 129.9,703.0 130.8,703.8 131.6,704.7 132.5,705.7 133.3,706.7 134.2,707.6 134.9,708.3 135.6,708.6 136.1,708.8 136.5,709.0 136.9,708.9 137.2,708.5 137.6,707.6 138.0,706.2" fill="none" stroke="#FFA07A" stroke-width="2" stroke-linejoin="round"/><polyline points="138.0,706.2 138.5,704.0 139.0,701.0 139.6,697.5 140.2,694.0 140.9,690.7 141.6,688.1 142.5,686.1 143.6,684.6 144.7,683.3 145.8,682.1 146.8,681.0 147.7,679.6 148.4,678.1 149.1,676.5 149.7,675.0 150.2,673.4 150.8,671.7 151.3,669.9 152.0,668.1 152.6,666.3 153.2,664.5 153.8,662.5 154.4,660.3 155.0,657.8 155.4,654.9 155.9,651.5 156.3,648.0 156.7,644.4 157.0,641.2 157.4,638.4 157.7,636.1 158.0,633.9 158.3,631.9 158.5,630.4 158.8,629.3 159.1,628.7 159.4,629.0 159.7,629.9 160.1,631.3 160.4,633.0 160.7,634.6 161.0,636.0 161.2,637.2 161.4,638.3 161.5,639.4 161.7,640.5 161.9,641.8 162.2,643.3 162.7,645.2 163.3,647.5 163.9,650.0 164.6,652.3 165.2,654.0 165.9,654.9 166.5,654.6 167.0,653.4 167.6,651.6 168.2,649.6 168.8,648.0 169.5,646.9 170.2,646.4 171.1,646.1 171.9,646.1 172.8,646.3 173.6,646.8 174.3,647.6" fill="none" stroke="#1EB4F0" stroke-width="2" stroke-linejoin="round"/><polyline points="174.3,647.6 175.0,648.9 175.7,650.7 176.3,652.8 176.9,655.0 177.4,657.2 178.0,659.0 178.4,660.5 178.7,661.8 179.0,663.0 179.4,664.2 179.8,665.7 180.4,667.5 181.2,669.7 182.1,672.3 183.2,675.0 184.3,677.9 185.4,680.7 186.4,683.2 187.4,685.8 188.5,688.4 189.5,691.0 190.5,693.4 191.5,695.3 192.5,696.5 193.5,696.9 194.6,696.4 195.7,695.6 196.8,694.6 197.7,694.0 198.5,694.1 199.2,695.1 199.7,696.5 200.2,698.4 200.6,700.3 201.0,702.2 201.5,703.8 201.9,705.2 202.4,706.6 202.9,707.9 203.4,709.1 204.0,710.2 204.6,711.1 205.3,711.9 206.1,712.6 207.0,713.2 207.9,713.6 208.7,713.7 209.4,713.5 210.1,713.0 210.8,712.2 211.4,711.2 212.0,709.9 212.6,708.2 213.1,706.2" fill="none" stroke="#FFA07A" stroke-width="2" stroke-linejoin="round"/><polyline points="213.1,706.2 213.5,703.7 214.0,700.6 214.4,697.1 214.7,693.6 215.1,690.1 215.5,686.9 215.9,683.9 216.3,681.1 216.7,678.4 217.1,675.6 217.5,672.8 217.9,669.9 218.3,666.7 218.8,663.4 219.2,659.9 219.6,656.5 220.0,653.4 220.3,650.5 220.6,648.1 220.8,646.1 221.0,644.3 221.2,642.5 221.3,640.6 221.5,638.4 221.8,635.7 222.1,632.5 222.4,629.1 222.6,626.1 222.9,623.8 223.2,622.7 223.6,622.9 223.9,624.3 224.2,626.4 224.6,628.9 224.9,631.4 225.2,633.6 225.4,635.5 225.6,637.4 225.8,639.4 225.9,641.4 226.1,643.5 226.4,645.7 226.7,648.2 227.1,651.1 227.5,654.0 228.0,656.7 228.4,658.9 228.8,660.2 229.2,660.5 229.7,660.0 230.1,659.0 230.5,657.7 230.9,656.4 231.2,655.4 231.5,654.7 231.7,654.2 231.9,653.7 232.0,653.0 232.2,652.0 232.4,650.5 232.7,648.4 233.0,645.7 233.4,642.7 233.7,639.5 234.1,636.4 234.4,633.6 234.7,631.0 234.9,628.6 235.1,626.2 235.4,623.8 235.7,621.4 236.1,619.1 236.6,616.6 237.1,614.0 237.7,611.4 238.3,608.9 239.0,606.6 239.7,604.5 240.5,602.6 241.3,600.6 242.2,598.9 243.1,597.4 243.9,596.4 244.6,596.1 245.1,596.5 245.6,597.7 246.0,599.3 246.3,601.2 246.7,603.0 247.0,604.5 247.2,605.7 247.5,606.6 247.7,607.6 247.8,608.6 248.0,610.0 248.2,611.8 248.4,614.1 248.5,616.9 248.7,619.9 248.9,623.1 249.1,626.5 249.4,630.0" fill="none" stroke="#1EB4F0" stroke-width="2" stroke-linejoin="round"/><polyline points="249.4,630.0 249.7,633.5 250.1,637.4 250.6,641.4 251.0,645.4 251.4,649.3 251.8,653.0 252.2,656.4 252.5,659.9 252.8,663.2 253.1,666.4 253.4,669.4 253.8,672.3 254.0,674.8 254.3,676.9 254.6,678.8 254.8,680.8 255.1,683.4 255.4,686.9 255.8,691.8 256.2,698.0 256.6,704.8 257.0,711.2 257.5,716.4 257.9,719.5 258.3,720.3 258.7,719.2 259.1,716.9 259.5,714.0 259.9,711.0 260.3,708.6 260.6,706.7 260.9,704.6 261.2,702.5 261.4,700.4 261.7,698.4 262.0,696.5 262.3,694.7 262.6,692.9 262.9,691.2 263.2,689.5 263.6,688.1 263.9,686.9 264.3,685.8 264.6,685.0 265.0,684.4 265.4,683.8 265.9,683.5 266.3,683.2 266.9,683.2 267.5,683.4 268.1,683.8 268.7,684.2 269.4,684.4 270.0,684.4 270.6,684.1 271.2,683.5 271.8,682.8 272.4,682.1 273.0,681.7 273.6,681.5 274.2,681.8 274.8,682.4 275.4,683.2 276.0,684.0 276.6,684.9 277.2,685.6 277.9,686.4 278.5,687.2 279.1,687.9 279.8,688.6 280.3,689.1 280.9,689.3 281.3,689.2 281.8,688.8 282.2,688.3 282.5,687.6 282.9,686.7 283.3,685.6" fill="none" stroke="#FFA07A" stroke-width="2" stroke-linejoin="round"/><polyline points="283.3,685.6 283.7,684.1 284.1,681.9 284.5,679.6 284.9,677.5 285.3,676.2 285.7,676.0" fill="none" stroke="#1EB4F0" stroke-width="2" stroke-linejoin="round"/><polyline points="285.7,676.0 286.1,677.1 286.5,679.3 286.9,682.2 287.3,685.4 287.7,688.7 288.1,691.7 288.5,694.4 288.9,697.1 289.3,699.8 289.7,702.6 290.1,705.5 290.6,708.6 291.1,712.1 291.7,716.0 292.3,719.9 293.0,723.8 293.6,727.4 294.2,730.4 294.7,733.1 295.2,735.4 295.7,737.5 296.2,739.2 296.8,740.5 297.3,741.3 298.0,741.6 298.7,741.3 299.4,740.7 300.2,739.7 300.9,738.7 301.5,737.7 302.0,736.7 302.4,735.6 302.8,734.4 303.2,733.2 303.5,731.8 303.9,730.4 304.2,729.1 304.5,727.7 304.8,726.3 305.0,724.8 305.3,723.0 305.6,720.8" fill="none" stroke="#FFA07A" stroke-width="2" stroke-linejoin="round"/><polyline points="305.6,720.8 305.8,718.0 306.1,714.8 306.3,711.4 306.5,707.8 306.8,704.4 307.0,701.4 307.3,698.5 307.5,695.7 307.8,693.1 308.1,690.6 308.4,688.5 308.7,686.9 309.1,685.7 309.4,684.9 309.8,684.4 310.2,684.3 310.7,684.3 311.1,684.4 311.7,684.9 312.3,685.9 313.0,687.0 313.6,688.1 314.2,688.9 314.8,689.3 315.2,689.0 315.6,688.4 316.0,687.5 316.4,686.5 316.8,685.4 317.2,684.4 317.7,683.4 318.2,682.2 318.8,681.0 319.3,679.9 319.8,679.0 320.1,678.4 320.2,678.3 320.2,678.6 320.0,679.1 319.9,679.5 319.9,679.8 320.0,679.6 320.3,679.1 320.8,678.6 321.3,677.8 321.9,676.7 322.4,674.9 322.9,672.3 323.3,668.7 323.6,664.0 323.9,658.7 324.2,653.2 324.5,647.9 324.8,643.3 325.2,639.1 325.6,635.1 326.0,631.2 326.4,627.7 326.9,624.4 327.3,621.5 327.7,619.0 328.1,616.8 328.4,614.9 328.8,613.3 329.3,611.9 329.7,610.6 330.1,609.4 330.6,608.3 331.1,607.4 331.6,606.7 332.1,606.4 332.6,606.5 333.1,607.0 333.6,607.9 334.2,609.2 334.7,610.7 335.3,612.4 335.7,614.2 336.2,616.2 336.6,618.3 337.0,620.6 337.4,623.1 337.8,625.8 338.2,628.7 338.5,631.8 338.8,635.1 339.1,638.6 339.5,642.3 339.8,646.3 340.1,650.5" fill="none" stroke="#1EB4F0" stroke-width="2" stroke-linejoin="round"/><polyline points="340.1,650.5 340.4,655.2 340.8,660.3 341.1,665.7 341.5,671.2 341.9,676.7 342.3,682.0 342.7,687.4 343.2,692.9 343.8,698.4 344.3,703.7 344.9,708.8 345.4,713.5 346.0,717.7 346.6,721.6 347.2,725.1 347.8,728.6 348.4,731.9 349.1,735.3 349.7,738.7 350.3,742.0 350.9,745.3 351.5,748.5 352.1,751.6 352.7,754.6 353.3,757.7 353.9,760.7 354.6,763.7 355.2,766.5 355.8,769.2 356.3,771.6 356.8,773.9 357.2,776.1 357.6,778.2 358.0,780.0 358.4,781.4 358.7,782.5 359.1,783.2 359.5,783.7 359.9,783.9 360.3,783.7 360.7,782.8 361.2,781.3 361.7,778.8 362.3,775.3 363.0,771.2 363.6,767.0 364.2,762.9 364.8,759.5 365.3,756.6 365.7,754.0 366.2,751.6 366.5,749.4 366.9,747.2 367.2,745.0 367.5,742.9 367.7,740.9 367.8,739.1 368.0,737.2 368.2,735.1 368.4,732.9" fill="none" stroke="#FFA07A" stroke-width="2" stroke-linejoin="round"/><polyline points="368.4,732.9 368.7,730.4 369.1,727.8 369.5,725.1 369.9,722.3 370.4,719.2 370.8,715.9 371.4,712.2 372.0,708.2 372.7,703.9 373.3,699.6 373.9,695.5 374.5,691.7 374.9,688.2 375.3,684.7 375.7,681.4 376.0,678.4 376.4,675.8 376.9,673.5 377.4,671.8 377.9,670.6 378.5,669.7 379.1,669.0 379.8,668.5 380.5,668.0 381.4,667.5 382.4,667.3 383.5,667.1 384.6,667.1 385.6,667.0 386.6,667.0 387.5,666.9 388.3,666.6 389.1,666.5 389.9,666.4 390.6,666.5 391.4,667.0 392.2,668.0 393.1,669.6 393.9,671.3 394.7,673.0 395.5,674.2 396.3,674.7 396.9,674.5 397.6,673.6 398.2,672.4 398.7,670.8 399.3,669.1 399.9,667.5 400.5,665.7 401.1,663.8 401.7,661.7 402.3,659.6 402.9,657.4 403.5,655.4 404.2,653.1 404.8,650.6 405.5,648.1 406.1,645.9 406.7,644.3 407.2,643.8 407.6,644.2 407.9,645.5 408.1,647.5 408.4,649.9 408.6,652.6 408.9,655.4" fill="none" stroke="#1EB4F0" stroke-width="2" stroke-linejoin="round"/><polyline points="408.9,655.4 409.2,658.5 409.5,662.2 409.8,666.1 410.1,670.1 410.4,673.8 410.8,677.2 411.2,680.2 411.5,683.0 411.9,685.7 412.3,688.1 412.7,690.1 413.2,691.7 413.8,692.8 414.4,693.4 415.0,693.6 415.7,693.5 416.3,693.3 416.9,692.9 417.3,692.4 417.7,691.7 418.1,690.7 418.5,689.6 418.9,688.3 419.3,686.9 419.7,685.1 420.1,683.1 420.5,680.9 420.9,678.6 421.3,676.6 421.7,674.7 422.1,673.3 422.5,672.0 422.8,670.8 423.2,669.7 423.6,668.6 424.1,667.5" fill="none" stroke="#FFA07A" stroke-width="2" stroke-linejoin="round"/><polyline points="424.1,667.5 424.7,666.3 425.2,665.1 425.9,663.8 426.5,662.6 427.1,661.4 427.7,660.2 428.4,659.0 429.0,657.9 429.6,656.8 430.2,655.6 430.8,654.3 431.4,653.0 431.9,651.2 432.5,648.9 433.0,646.6 433.6,644.6 434.1,643.2 434.5,642.8 435.0,643.6 435.4,645.5 435.7,648.0 436.1,650.7 436.4,653.3 436.7,655.4 437.0,656.8 437.1,657.9 437.3,658.8 437.5,659.8 437.8,661.0 438.2,662.6" fill="none" stroke="#1EB4F0" stroke-width="2" stroke-linejoin="round"/><polyline points="438.2,662.6 438.7,664.7 439.4,667.2 440.1,669.8 440.8,672.6 441.6,675.5 442.3,678.4 442.9,681.3 443.6,684.2 444.2,687.2 444.8,690.3 445.4,693.4 445.9,696.5 446.4,699.7 446.8,702.8 447.2,706.0 447.6,709.2 447.9,712.5 448.3,715.9 448.7,719.5 449.2,723.4 449.6,727.3 450.0,731.2 450.4,734.7 450.8,737.7 451.1,740.3 451.4,742.6 451.7,744.6 452.0,746.3 452.3,747.6 452.7,748.6 453.1,749.1 453.6,749.2 454.1,749.0 454.7,748.5 455.2,747.9 455.6,747.4 456.0,746.7 456.3,745.6 456.6,744.5 456.8,743.5 457.2,742.8 457.5,742.5 458.0,743.1 458.4,744.3 459.0,745.9 459.5,747.3 460.0,748.4 460.4,748.6 460.9,747.7 461.3,745.8 461.7,743.5 462.1,741.2 462.5,739.5 462.9,738.9 463.3,739.7 463.7,741.4 464.1,743.7 464.5,746.2 464.9,748.4 465.3,749.8 465.7,750.5 466.1,750.9 466.5,750.9 466.9,750.8 467.3,750.5 467.7,750.3 468.1,750.2 468.5,750.1 468.9,749.9 469.3,749.5 469.7,748.7 470.1,747.4" fill="none" stroke="#FFA07A" stroke-width="2" stroke-linejoin="round"/><polyline points="470.1,747.4 470.5,745.4 470.9,742.8 471.3,739.8 471.7,736.6 472.1,733.4 472.5,730.4 472.9,727.6 473.3,724.8 473.8,722.0 474.2,719.1 474.6,716.3 475.0,713.5 475.3,710.5 475.7,707.4 476.0,704.3 476.4,701.4 476.8,698.7 477.4,696.5 478.1,694.9 478.8,693.6 479.7,692.7 480.5,691.9 481.4,691.2 482.2,690.5 483.0,689.7 483.9,689.0 484.7,688.4 485.5,687.8 486.3,687.3 487.1,686.9 487.8,686.4 488.4,686.0 489.0,685.7 489.6,685.5 490.2,685.5 490.7,685.6 491.2,686.0 491.6,686.6 491.9,687.4 492.3,688.3 492.7,689.3 493.1,690.5 493.7,692.0 494.2,693.9 494.9,695.9 495.5,697.8 496.1,699.3 496.8,700.2 497.4,700.2 498.0,699.5 498.6,698.5 499.2,697.3 499.8,696.2 500.4,695.3 500.9,694.6 501.4,693.7 501.9,692.9 502.3,692.4 502.8,692.3 503.3,692.9" fill="none" stroke="#1EB4F0" stroke-width="2" stroke-linejoin="round"/><polyline points="503.3,692.9 503.8,694.5 504.3,697.1 504.8,700.2 505.3,703.2 505.9,705.8 506.4,707.4 507.0,707.9 507.7,707.7 508.3,706.9 508.9,706.0 509.5,705.3 510.1,705.0 510.5,705.2 511.0,705.5 511.4,705.9 511.7,706.6 512.1,707.5 512.5,708.6 512.9,710.3 513.3,712.3 513.7,714.6 514.2,716.9 514.6,719.1 514.9,720.8 515.2,722.1 515.5,723.4 515.8,724.4 516.1,725.1 516.3,725.6 516.6,725.6 516.9,725.3 517.2,724.6 517.5,723.6 517.9,722.3 518.2,720.5 518.5,718.3" fill="none" stroke="#FFA07A" stroke-width="2" stroke-linejoin="round"/><polyline points="518.5,718.3 518.9,715.5 519.3,712.0 519.7,708.0 520.1,704.0 520.5,700.1 521.0,696.5 521.5,693.3 522.1,690.2 522.7,687.2 523.3,684.3 524.0,681.8 524.6,679.6 525.2,677.7 525.8,676.0 526.3,674.6 526.9,673.5 527.6,672.7 528.2,672.3 529.0,672.6 529.8,673.5 530.6,674.7 531.4,676.0 532.3,676.9 533.1,677.2 533.9,676.7 534.7,675.8 535.5,674.6 536.3,673.1 537.1,671.5 537.9,669.9 538.7,668.2 539.5,666.4 540.3,664.5 541.1,662.4 542.0,660.2 542.8,657.8 543.6,655.3 544.4,652.7 545.3,649.9 546.1,647.0 546.9,644.0 547.6,640.8 548.3,637.5 548.9,633.9 549.5,630.3 550.1,626.5 550.6,622.7 551.2,619.1 551.9,615.2 552.5,611.1 553.2,606.9 553.8,603.1 554.4,599.8 554.9,597.3 555.3,595.6 555.6,594.6 555.9,594.1 556.1,594.0 556.4,594.3 556.8,594.8 557.2,595.7 557.7,597.1 558.2,598.8 558.7,600.7 559.2,602.6 559.7,604.5 560.2,606.3 560.8,608.0 561.3,609.8 561.9,611.8 562.4,614.0 562.9,616.6" fill="none" stroke="#1EB4F0" stroke-width="2" stroke-linejoin="round"/><polyline points="562.9,616.6 563.3,619.7 563.7,623.1 564.0,626.8 564.4,630.6 564.7,634.5 565.0,638.4 565.4,642.2 565.6,646.0 565.9,649.9 566.2,653.9 566.6,658.2 567.0,662.6 567.5,667.5 568.1,672.9 568.7,678.4 569.3,683.9 570.0,689.2 570.6,694.1 571.2,699.0 571.8,704.2 572.4,709.1 573.0,713.4 573.6,716.6 574.2,718.3 574.8,718.2 575.4,716.6 576.1,713.9 576.7,710.6 577.3,707.1 577.9,703.8 578.5,700.6 579.1,697.0 579.7,693.2 580.3,689.4 580.9,685.6 581.5,682.0 582.0,678.6 582.5,675.2 583.0,671.9 583.4,668.6 583.9,665.6 584.4,662.6" fill="none" stroke="#FFA07A" stroke-width="2" stroke-linejoin="round"/><polyline points="584.4,662.6 584.9,659.9 585.4,657.2 585.9,654.7 586.5,652.3 587.0,650.1 587.6,648.1 588.1,646.3 588.7,644.8 589.3,643.4 590.0,642.1 590.6,640.9 591.2,639.6 591.8,638.3 592.5,637.0 593.1,635.8 593.8,634.6 594.3,633.4 594.8,632.4 595.2,631.3 595.5,630.1 595.7,629.0 595.9,628.2 596.2,627.6 596.5,627.5 596.9,628.0 597.4,629.0 597.9,630.3 598.4,631.7 599.0,633.3 599.7,634.8 600.4,636.3 601.2,637.9 602.0,639.6 602.9,641.3 603.7,643.0 604.5,644.5 605.2,645.6 606.0,646.5 606.7,647.3 607.3,648.2 608.0,649.6 608.6,651.7" fill="none" stroke="#1EB4F0" stroke-width="2" stroke-linejoin="round"/><polyline points="608.6,651.7 609.2,654.6 609.8,657.9 610.3,661.7 610.8,665.9 611.3,670.2 611.8,674.7 612.2,679.6 612.6,685.0 613.0,690.6 613.4,696.1 613.8,701.4 614.2,706.2 614.6,710.6 615.0,714.7 615.3,718.6 615.7,722.2 616.1,725.3 616.6,728.0 617.1,730.0 617.7,731.4 618.3,732.3 618.9,733.1 619.6,734.0 620.2,735.3 621.0,737.1 621.9,739.3 622.7,741.7 623.6,743.9 624.4,745.7 625.1,746.9 625.6,747.5 626.0,747.8 626.4,747.7 626.7,747.2 627.1,746.3 627.5,745.0 628.0,743.0 628.6,740.5 629.2,737.5 629.9,734.3 630.5,731.1 631.1,728.0 631.8,724.9 632.4,721.5 633.0,718.0 633.6,714.8 634.2,712.0 634.8,709.9 635.2,708.5 635.6,707.7 636.0,707.4 636.4,707.4 636.8,707.4 637.2,707.4 637.7,707.4 638.2,707.6 638.8,707.9 639.3,708.2 639.8,708.5 640.1,708.6 640.2,708.7 640.2,708.8 640.1,708.9 640.0,708.9 639.9,708.8 640.0,708.6 640.2,708.6 640.5,708.8 640.8,708.9 641.2,708.7 641.6,707.9 641.9,706.2" fill="none" stroke="#FFA07A" stroke-width="2" stroke-linejoin="round"/><polyline points="641.9,706.2 642.3,703.3 642.7,699.4 643.2,694.9 643.6,690.2 644.0,685.7 644.4,682.0 644.7,678.7 645.0,675.5 645.2,672.5 645.5,670.0 645.7,668.2 646.1,667.5 646.4,668.0 646.8,669.5 647.2,671.9 647.6,674.6 648.1,677.3 648.5,679.6 648.9,681.7 649.2,683.9 649.6,686.1 650.0,688.2 650.4,690.1 650.9,691.7 651.4,692.9 652.0,693.9 652.6,694.7 653.2,695.3 653.8,695.7 654.5,696.1" fill="none" stroke="#1EB4F0" stroke-width="2" stroke-linejoin="round"/><polyline points="654.5,696.1 655.3,696.3 656.1,696.5 656.9,696.5 657.8,696.3 658.6,696.0 659.4,695.3 660.1,694.3 660.7,693.0 661.4,691.4 662.0,689.8 662.5,688.2 663.0,686.9 663.4,685.8 663.6,685.1 663.8,684.4 664.0,683.6 664.3,682.5 664.7,680.8" fill="none" stroke="#FFA07A" stroke-width="2" stroke-linejoin="round"/><polyline points="664.7,680.8 665.3,678.5 665.9,675.9 666.7,672.9 667.5,669.6 668.3,666.2 669.1,662.6 669.8,658.9 670.6,654.7 671.4,650.5 672.3,646.2 673.1,642.1 673.9,638.4 674.7,635.1 675.6,631.9 676.4,628.9 677.2,626.1 678.0,623.7 678.7,621.5 679.4,619.6 680.1,618.2 680.7,616.9 681.3,615.9 681.9,615.0 682.4,614.2 682.8,613.4 683.2,612.7 683.6,612.1 683.9,611.7 684.3,611.6 684.8,611.8 685.3,612.5 686.0,613.8 686.6,615.4 687.3,616.9 687.9,618.0 688.4,618.6 688.9,618.3 689.3,617.6 689.8,616.5 690.1,615.3 690.5,614.0 690.8,613.0 691.2,612.0 691.5,610.9 691.7,609.8 692.0,608.9 692.3,608.3 692.5,608.2 692.9,608.5 693.2,609.1 693.5,610.1 693.8,611.4 694.2,613.2 694.5,615.4" fill="none" stroke="#1EB4F0" stroke-width="2" stroke-linejoin="round"/><polyline points="694.5,615.4 694.8,618.3 695.1,621.9 695.3,625.9 695.6,630.1 695.9,634.3 696.2,638.4 696.5,642.3 696.7,646.2 697.0,650.2 697.3,654.2 697.7,658.3 698.1,662.6 698.6,667.3 699.2,672.2 699.8,677.3 700.5,682.4 701.1,687.2 701.7,691.7 702.3,695.7 703.0,699.5 703.6,703.0 704.2,706.5 704.8,709.9 705.4,713.5 706.0,717.2 706.6,721.1 707.3,725.0 707.9,728.8 708.5,732.2 709.0,735.3 709.5,738.1 709.9,740.8 710.3,743.2 710.7,745.1 711.0,746.4 711.4,746.9 711.8,746.3 712.2,744.6 712.6,742.3 713.0,739.7 713.4,737.2 713.8,735.3 714.2,733.7 714.6,732.3 715.0,730.9 715.4,729.7 715.8,728.8 716.3,728.0 716.8,727.7 717.4,727.9 718.0,728.2 718.6,728.6 719.3,728.6 719.9,728.0 720.5,726.7 721.1,724.9 721.7,722.7 722.4,720.5 723.0,718.6 723.5,717.1 724.1,716.1 724.6,715.4 725.2,714.8 725.7,714.6 726.2,714.5 726.7,714.7 727.2,715.2 727.6,716.0 728.1,717.0 728.6,718.1 729.1,719.4 729.6,720.8 730.2,722.2 730.7,723.8 731.4,725.4 732.0,727.2 732.6,728.8 733.2,730.4 733.8,731.9 734.4,733.4 735.0,734.9 735.6,736.3 736.2,737.7 736.9,738.9 737.5,740.1 738.0,741.2 738.6,742.3 739.2,743.3 739.9,744.2 740.5,745.0 741.2,745.7 741.9,746.4 742.6,747.1 743.3,747.5 744.0,747.8 744.6,747.9 745.2,747.6 745.7,747.1 746.3,746.4 746.8,745.6 747.3,744.7 747.7,743.8 748.2,742.8 748.6,741.7 749.0,740.5 749.3,739.3 749.7,737.9 750.2,736.5" fill="none" stroke="#FFA07A" stroke-width="2" stroke-linejoin="round"/><polyline points="750.2,736.5 750.7,734.9 751.2,733.3 751.7,731.5 752.3,729.6 752.8,727.7 753.3,725.6 753.8,723.4 754.2,721.1 754.5,718.7 754.9,716.2 755.3,713.7 755.7,711.1 756.2,708.3 756.6,705.3 757.1,702.3 757.6,699.3 758.1,696.5 758.6,694.1 759.2,692.0 759.8,690.1 760.4,688.4 761.0,686.9 761.7,685.5 762.3,684.4 762.9,683.5 763.5,682.9 764.2,682.4 764.8,682.1 765.4,682.0 765.9,682.0 766.4,682.5 766.8,683.4 767.1,684.5 767.5,685.5 767.9,685.9 768.3,685.6 768.9,684.4 769.5,682.3 770.1,679.8 770.8,677.1 771.4,674.5 772.0,672.3 772.4,670.4 772.8,668.6 773.1,666.9 773.5,665.3 773.9,663.9 774.4,662.6 775.0,661.6 775.7,660.7 776.5,659.9 777.2,659.4 777.9,659.1 778.5,659.0 779.0,659.3 779.4,659.9 779.7,660.8 780.0,661.8 780.2,662.9 780.4,663.8 780.6,664.6 780.7,665.2 780.7,665.8 780.7,666.7 780.8,668.0 780.9,669.9" fill="none" stroke="#1EB4F0" stroke-width="2" stroke-linejoin="round"/><polyline points="780.9,669.9 781.2,672.6 781.4,675.9 781.8,679.7 782.1,683.7 782.5,687.7 782.9,691.7 783.2,695.6 783.6,699.6 784.0,703.7 784.5,707.7 784.9,711.8 785.3,715.9 785.7,720.0 786.1,724.2 786.5,728.3 786.9,732.4 787.3,736.4 787.7,740.1 788.1,743.7 788.5,747.2 788.9,750.6 789.3,753.8 789.7,756.7 790.1,759.5 790.6,762.1 791.0,764.6 791.5,767.0 792.0,769.0 792.5,770.6 793.0,771.6 793.5,771.9 794.0,771.7 794.6,771.0 795.1,770.0 795.6,769.0 796.2,768.0 796.7,767.0 797.3,765.9 797.9,764.8 798.5,763.5 799.1,762.2 799.8,760.7 800.6,759.1 801.4,757.5 802.2,755.7 803.1,753.8 803.9,751.9 804.6,749.8 805.3,747.5 806.0,745.1 806.6,742.5 807.2,739.9 807.8,737.5 808.3,735.3 808.8,733.3 809.2,731.5 809.6,729.8 809.9,728.2 810.3,726.8 810.7,725.6 811.1,724.7 811.5,724.2 811.8,723.9 812.2,723.5 812.6,722.9 813.1,722.0" fill="none" stroke="#FFA07A" stroke-width="2" stroke-linejoin="round"/><polyline points="813.1,722.0 813.7,720.7 814.3,719.4 814.9,717.8 815.6,716.0 816.2,713.7 816.8,711.1 817.2,707.7 817.7,703.8 818.1,699.5 818.5,695.1 818.8,690.8 819.2,686.9 819.5,683.2 819.9,679.5 820.2,675.9 820.5,672.6 820.8,669.7 821.1,667.5 821.4,665.8 821.7,664.7 821.9,663.9 822.2,663.6 822.5,663.6 822.8,663.8 823.2,664.5 823.6,665.6 824.0,667.1 824.4,668.8 824.8,670.6 825.2,672.3 825.6,674.1 826.0,676.1 826.4,678.2 826.8,680.3 827.2,682.4 827.7,684.4 828.2,686.5 828.8,688.7 829.5,690.9 830.1,693.0 830.7,694.9 831.3,696.5 831.8,697.8 832.2,698.7 832.6,699.5 833.0,700.3 833.3,701.2 833.7,702.6" fill="none" stroke="#1EB4F0" stroke-width="2" stroke-linejoin="round"/><polyline points="833.7,702.6 834.1,704.4 834.4,706.5 834.7,708.9 835.0,711.3 835.3,713.7 835.6,715.9 835.9,718.1 836.2,720.4 836.5,722.7 836.7,724.8 837.0,726.6 837.3,728.0 837.7,729.0 838.1,729.6 838.5,730.0 838.9,730.1 839.3,730.1 839.8,730.0 840.2,729.7 840.6,729.3 841.0,728.8 841.4,728.0 841.8,727.0 842.2,725.6 842.5,723.7 842.8,721.4 843.1,718.8 843.4,716.1 843.6,713.5 843.9,711.1 844.1,709.0 844.3,707.0 844.5,705.2 844.7,703.3 845.0,701.2 845.3,699.0" fill="none" stroke="#FFA07A" stroke-width="2" stroke-linejoin="round"/><polyline points="845.3,699.0 845.7,696.4 846.2,693.5 846.7,690.5 847.2,687.5 847.7,684.6 848.2,682.0 848.7,679.6 849.2,677.2 849.7,675.0 850.2,673.0 850.7,671.2 851.1,669.9 851.5,669.0 851.8,668.5 852.1,668.2 852.3,668.2 852.7,668.4 853.1,668.7 853.6,669.2 854.2,670.2 854.8,671.3 855.4,672.3 856.1,673.1 856.7,673.5 857.3,673.5 857.9,673.1 858.5,672.5 859.1,671.7 859.7,670.8 860.3,669.9 861.0,668.8 861.6,667.5 862.2,666.1 862.8,664.7 863.4,663.5 864.0,662.6 864.4,662.1 864.8,661.9 865.2,661.8 865.5,661.9 865.9,662.0 866.4,662.2 866.9,662.3 867.5,662.6 868.1,663.0 868.8,663.3 869.4,663.6 870.0,663.8 870.6,663.9 871.3,663.8 871.9,663.7 872.5,663.6 873.1,663.6 873.7,663.8 874.2,664.3 874.8,664.8 875.3,665.5 875.8,666.2 876.3,667.1 876.8,668.0" fill="none" stroke="#1EB4F0" stroke-width="2" stroke-linejoin="round"/><polyline points="876.8,668.0 877.3,668.9 877.8,669.9 878.2,671.0 878.7,672.2 879.2,673.4 879.7,674.7 880.3,676.2 880.9,677.7 881.5,679.3 882.1,680.9 882.7,682.6 883.3,684.4 883.9,686.4 884.6,688.4 885.2,690.6 885.8,692.7 886.4,694.7 887.0,696.5 887.6,698.2 888.1,699.8 888.7,701.3 889.3,702.7 889.9,703.9 890.6,705.0 891.4,705.9 892.2,706.4 893.0,706.9 893.9,707.3 894.7,707.9 895.4,708.6 896.1,709.7 896.8,710.9 897.4,712.3 898.0,713.6 898.6,714.9 899.1,715.9 899.6,716.9 900.0,717.8 900.4,718.7 900.8,719.4 901.2,719.7 901.5,719.5 901.8,719.0 901.9,718.2 902.1,717.0 902.3,715.5 902.5,713.5 902.7,711.1" fill="none" stroke="#FFA07A" stroke-width="2" stroke-linejoin="round"/><polyline points="902.7,711.1 903.0,707.8 903.4,703.8 903.8,699.3 904.2,694.8 904.6,690.5 905.1,686.9 905.7,683.8 906.3,681.0 906.9,678.5 907.5,676.2 908.1,674.1 908.8,672.3 909.4,670.7 910.0,669.4 910.7,668.3 911.3,667.4 911.9,666.8 912.4,666.3 912.9,666.0 913.3,665.9 913.6,666.0 914.0,666.4 914.4,666.8 914.8,667.5 915.3,668.2 915.8,669.0 916.4,669.9 916.9,671.1 917.4,672.7 918.0,674.7 918.5,677.4 919.0,680.7 919.5,684.4 919.9,688.2 920.4,691.9 920.9,695.3" fill="none" stroke="#1EB4F0" stroke-width="2" stroke-linejoin="round"/><polyline points="920.9,695.3 921.3,698.6 921.7,701.9 922.1,705.2 922.5,708.2 922.9,711.0 923.3,713.5 923.7,715.6 924.1,717.3 924.5,718.9 924.9,720.1 925.3,721.2 925.7,722.0 926.1,722.6 926.4,723.0 926.7,723.2 927.0,723.1 927.3,722.7 927.7,722.0 928.1,720.8 928.5,719.1 929.0,717.1 929.5,715.0 930.0,712.9 930.6,711.1 931.1,709.3 931.8,707.4 932.4,705.6 933.0,703.9 933.6,702.5 934.2,701.4 934.7,701.0 935.1,701.3 935.5,701.9 935.9,702.2 936.3,701.8 936.6,700.2" fill="none" stroke="#FFA07A" stroke-width="2" stroke-linejoin="round"/><polyline points="936.6,700.2 936.9,696.8 937.2,692.0 937.5,686.5 937.7,680.9 938.0,676.0 938.3,672.3 938.6,670.0 938.9,668.4 939.2,667.4 939.5,667.0 939.8,666.9 940.2,667.0 940.7,667.6 941.3,668.7 942.0,670.3 942.6,671.9 943.2,673.5 943.9,674.7 944.5,675.7 945.1,676.5 945.8,677.2 946.4,677.8 947.0,678.4 947.5,679.1 948.0,679.6 948.4,679.8 948.8,680.0 949.2,680.5 949.5,681.4 949.9,683.2" fill="none" stroke="#1EB4F0" stroke-width="2" stroke-linejoin="round"/><polyline points="949.9,683.2 950.3,685.9 950.7,689.2 951.1,693.0 951.5,697.2 951.9,701.7 952.3,706.2 952.8,711.1 953.2,716.4 953.6,722.0 954.0,727.6 954.4,732.9 954.8,737.7 955.2,742.1 955.6,746.3 956.0,750.2 956.3,753.8 956.8,756.9 957.2,759.5 957.7,761.5 958.2,762.9 958.8,763.9 959.3,764.6 959.8,765.1 960.1,765.5 960.2,765.9 960.2,766.0 960.1,766.0 960.0,765.9 959.9,765.7 960.0,765.5 960.3,765.6 960.6,765.9 961.1,766.2 961.5,766.1 962.0,765.6 962.4,764.3 962.8,762.2 963.2,759.4 963.6,756.1 964.0,752.5 964.4,748.7 964.8,745.0 965.3,741.0 965.7,736.7 966.1,732.3 966.5,727.9 966.9,724.0 967.3,720.8 967.6,718.4 967.9,716.8 968.2,715.6 968.5,714.5 968.8,713.1 969.2,711.1" fill="none" stroke="#FFA07A" stroke-width="2" stroke-linejoin="round"/><polyline points="969.2,711.1 969.6,708.4 970.1,705.2 970.6,701.8 971.1,698.3 971.6,694.9 972.1,691.7 972.6,688.7 973.1,685.7 973.5,682.8 974.0,679.9 974.5,677.3 975.0,674.7 975.5,672.4 976.0,670.1 976.5,667.9 977.0,665.9 977.5,664.1 978.2,662.6 978.9,661.4 979.7,660.3 980.6,659.4 981.5,658.8 982.3,658.5 983.0,658.5 983.5,658.9 984.0,659.7 984.4,660.8 984.7,662.1 985.0,663.5 985.4,665.1 985.8,666.8 986.2,668.9 986.6,671.1 987.0,673.3 987.4,675.4 987.8,677.2 988.2,678.7 988.7,680.2 989.1,681.6 989.5,682.7 989.9,683.7 990.3,684.4 990.7,685.0 991.1,685.6 991.5,685.9 991.9,686.0 992.3,685.5 992.7,684.4 993.0,682.6 993.3,680.1 993.6,677.2 993.8,673.9 994.1,670.6 994.4,667.5 994.7,664.2 994.9,660.5 995.2,656.8 995.5,653.3 995.9,650.3 996.3,648.1 996.8,646.9 997.4,646.4 998.0,646.4 998.7,646.7 999.3,647.2 1000.0,647.6 1000.6,648.1 1001.2,648.9 1001.8,649.9 1002.5,650.8 1003.0,651.5 1003.6,651.7 1004.1,651.5 1004.5,650.8 1004.9,650.0 1005.2,649.1 1005.6,648.4 1006.0,648.1 1006.4,648.2 1006.8,648.6 1007.2,649.2 1007.6,649.9 1008.0,650.8 1008.4,651.7 1008.8,652.9 1009.2,654.2 1009.6,655.6 1010.0,657.1 1010.4,658.7 1010.8,660.2" fill="none" stroke="#1EB4F0" stroke-width="2" stroke-linejoin="round"/><polyline points="1010.8,660.2 1011.4,661.8 1012.0,663.4 1012.6,665.0 1013.2,666.6 1013.9,668.3 1014.5,669.9 1015.1,671.5 1015.7,673.1 1016.3,674.7 1016.9,676.3 1017.5,677.9 1018.1,679.6 1018.7,681.4 1019.4,683.4 1020.0,685.5 1020.6,687.4 1021.2,689.1 1021.7,690.5 1022.2,691.5 1022.6,692.2 1023.0,692.8 1023.4,693.0 1023.8,693.1 1024.2,692.9 1024.6,692.4 1025.0,691.6 1025.4,690.6 1025.8,689.4 1026.2,688.1 1026.6,686.9 1027.0,685.5 1027.4,684.0 1027.8,682.5 1028.3,680.9 1028.6,679.5 1029.0,678.4 1029.3,677.5 1029.6,676.9 1029.8,676.5 1030.1,676.0 1030.4,675.5 1030.7,674.7" fill="none" stroke="#FFA07A" stroke-width="2" stroke-linejoin="round"/><polyline points="1030.7,674.7 1031.1,673.7 1031.5,672.3 1032.0,670.9 1032.4,669.5 1032.9,668.5 1033.4,668.0 1033.8,668.0 1034.3,668.5 1034.8,669.3 1035.2,670.3 1035.7,671.3 1036.3,672.3 1036.8,673.4 1037.4,674.7 1038.0,676.0 1038.7,677.3 1039.3,678.3 1039.9,678.9 1040.5,678.9 1041.1,678.7 1041.7,678.1 1042.3,677.4 1042.9,676.7 1043.5,676.0 1044.1,675.3 1044.7,674.7 1045.4,674.0 1046.0,673.2 1046.6,672.2 1047.2,671.1 1047.8,669.8 1048.4,668.3 1049.0,666.6 1049.6,664.9 1050.2,663.2 1050.8,661.4 1051.4,659.6 1052.1,657.6 1052.7,655.6 1053.3,653.7 1053.9,652.0 1054.4,650.5 1054.9,649.2 1055.2,647.9 1055.6,646.7 1055.9,645.9 1056.1,645.7 1056.4,646.2 1056.6,647.5 1056.7,649.4 1056.9,651.9 1057.0,654.9 1057.2,658.1 1057.3,661.4" fill="none" stroke="#1EB4F0" stroke-width="2" stroke-linejoin="round"/><polyline points="1057.3,661.4 1057.5,665.0 1057.8,669.0 1058.0,673.3 1058.3,677.7 1058.5,682.3 1058.8,686.9 1059.0,691.5 1059.3,696.4 1059.6,701.5 1059.9,706.4 1060.2,711.3 1060.5,715.9 1060.8,720.4 1061.2,725.0 1061.6,729.4 1062.1,733.5 1062.5,737.2 1062.9,740.1 1063.3,742.5 1063.7,744.4 1064.1,745.8 1064.5,746.6 1064.9,747.0 1065.3,746.9 1065.7,746.0 1066.1,744.4 1066.5,742.3 1066.9,739.9 1067.3,737.5 1067.7,735.3 1068.2,732.9 1068.8,730.2 1069.4,727.5 1069.9,725.1 1070.4,723.3 1070.9,722.7 1071.3,723.2 1071.5,724.7 1071.8,726.8 1072.0,729.5 1072.3,732.4 1072.6,735.3 1073.0,738.6 1073.3,742.6 1073.8,746.8 1074.2,750.9 1074.6,754.5 1075.0,757.1 1075.4,758.6 1075.8,759.5 1076.1,759.8 1076.5,759.7 1077.0,759.4 1077.4,759.0 1078.0,758.4 1078.6,757.5 1079.2,756.3 1079.8,754.9 1080.4,753.6 1081.1,752.2 1081.7,750.8 1082.3,749.2 1083.0,747.5 1083.6,745.9 1084.2,744.6 1084.7,743.8 1085.2,743.2 1085.6,742.9 1086.0,742.9 1086.4,743.2 1086.7,743.9 1087.1,745.0 1087.5,746.7 1087.9,749.2 1088.3,752.0 1088.7,754.9 1089.1,757.5 1089.5,759.5 1089.9,761.0 1090.3,762.1 1090.7,763.0 1091.1,763.7 1091.5,764.1 1092.0,764.3 1092.5,764.2 1093.1,763.8 1093.8,763.0 1094.4,762.2 1095.0,761.4 1095.6,760.7 1096.1,760.2 1096.5,759.8 1096.9,759.4 1097.3,758.9 1097.6,758.2 1098.0,757.1" fill="none" stroke="#FFA07A" stroke-width="2" stroke-linejoin="round"/><polyline points="1098.0,757.1 1098.4,755.5 1098.8,753.6 1099.1,751.4 1099.5,749.1 1100.0,746.9 1100.4,745.0 1101.0,743.1 1101.6,741.1 1102.2,739.1 1102.8,737.4 1103.4,736.1 1104.1,735.3 1104.7,735.2 1105.3,735.7 1105.9,736.6 1106.5,737.6 1107.1,738.4 1107.7,738.9 1108.3,739.0 1109.0,739.0 1109.6,738.8 1110.2,738.6 1110.8,738.2 1111.3,737.7 1111.8,737.2 1112.2,736.6 1112.6,735.9 1113.0,735.1 1113.4,734.1 1113.8,732.9 1114.1,731.5 1114.5,730.0 1114.9,728.4 1115.3,726.5 1115.7,724.4 1116.2,722.0 1116.7,719.1 1117.3,715.9 1117.9,712.4 1118.6,708.7 1119.2,705.0 1119.8,701.4 1120.4,697.7 1121.1,693.8 1121.7,689.9 1122.3,686.1 1122.9,682.6 1123.4,679.6 1123.9,676.8 1124.3,674.3 1124.7,672.0 1125.0,670.1 1125.4,668.7 1125.9,668.0 1126.4,667.9 1126.9,668.5 1127.4,669.6 1128.0,671.1 1128.5,672.8 1129.0,674.7 1129.5,677.0 1129.9,679.6 1130.4,682.6 1130.8,685.7 1131.1,688.8 1131.4,691.7 1131.7,694.4 1131.8,697.0 1132.0,699.6 1132.1,702.3 1132.2,705.3 1132.4,708.6" fill="none" stroke="#1EB4F0" stroke-width="2" stroke-linejoin="round"/><polyline points="1132.4,708.6 1132.6,712.6 1132.8,716.9 1133.1,721.5 1133.3,726.2 1133.6,730.9 1133.8,735.3 1134.1,739.6 1134.4,744.1 1134.6,748.5 1134.9,752.7 1135.2,756.4 1135.5,759.5 1135.9,762.0 1136.3,764.2 1136.7,765.9 1137.1,767.2 1137.6,767.9 1138.0,768.0 1138.4,767.2 1138.7,765.5 1139.1,763.4 1139.5,761.0 1139.9,758.8 1140.4,757.1 1140.9,755.8 1141.4,754.6 1141.9,753.6 1142.5,752.9 1143.0,752.4 1143.5,752.2 1144.0,752.6 1144.5,753.6 1145.0,754.8 1145.5,756.0 1146.0,757.0 1146.4,757.6 1146.9,757.6 1147.3,757.4 1147.7,757.0 1148.1,756.4 1148.5,755.6 1148.9,754.6 1149.3,753.4 1149.7,751.8 1150.1,750.0 1150.5,748.2 1150.9,746.4 1151.3,745.0 1151.7,743.6 1152.0,742.3 1152.4,741.1 1152.8,740.1 1153.2,739.3 1153.7,738.9 1154.2,739.1 1154.8,739.8 1155.5,740.8 1156.1,741.8 1156.7,742.5 1157.3,742.5 1157.9,742.1 1158.4,741.4 1159.0,740.3 1159.5,739.0 1160.0,737.3 1160.5,735.3" fill="none" stroke="#FFA07A" stroke-width="2" stroke-linejoin="round"/><polyline points="1160.5,735.3 1160.9,732.8 1161.3,729.8 1161.7,726.5 1162.1,723.0 1162.5,719.4 1162.9,715.9 1163.3,712.3 1163.7,708.5 1164.1,704.6 1164.5,700.8 1164.9,697.2 1165.3,694.1 1165.7,691.5 1166.1,689.1 1166.5,687.0 1166.9,685.1 1167.3,683.5 1167.7,682.0 1168.2,680.7 1168.6,679.7 1169.0,678.9 1169.4,678.2 1169.8,677.6 1170.2,677.2 1170.5,676.8 1170.9,676.7 1171.2,676.6 1171.5,676.6 1171.7,676.7 1171.9,676.7" fill="none" stroke="#1EB4F0" stroke-width="2" stroke-linejoin="round"/><polyline points="3.0,665.7 4.0,670.8 5.0,675.8 6.0,680.9 7.0,686.5 8.0,692.1 9.0,696.8 10.0,700.5 11.0,704.5 12.0,707.9 13.0,710.9 14.0,712.4 15.0,712.4 16.0,712.4 17.0,712.4 18.0,712.4 19.0,712.4 20.0,712.4 21.0,712.4 22.0,712.4 23.0,712.4" fill="none" stroke="#FFA07A" stroke-width="1" stroke-dasharray="4 3"/><polyline points="23.0,712.4 24.0,712.1 25.0,702.5 26.0,702.3 27.0,696.3 28.0,696.3 29.0,696.3 30.0,696.3 31.0,696.3 32.0,696.3" fill="none" stroke="#1EB4F0" stroke-width="1" stroke-dasharray="4 3"/><polyline points="32.0,696.3 33.0,696.3 34.0,696.3 35.0,701.7 36.0,707.4 37.0,709.8 38.0,711.8 39.0,711.8 40.0,711.8 41.0,711.8 42.0,711.8 43.0,711.8 44.0,711.8 45.0,711.8 46.0,711.8 47.0,711.8 48.0,711.8 49.0,711.8 50.0,711.8 51.0,711.8 52.0,711.8" fill="none" stroke="#FFA07A" stroke-width="1" stroke-dasharray="4 3"/><polyline points="52.0,711.8 53.0,711.8 54.0,710.5 55.0,703.8 56.0,701.3 57.0,698.5 58.0,696.3 59.0,694.0 60.0,692.7 61.0,692.7 62.0,692.7 63.0,692.7 64.0,692.7 65.0,692.7 66.0,689.5 67.0,687.7 68.0,684.9 69.0,683.2 70.0,682.0 71.0,682.0 72.0,682.0 73.0,684.5" fill="none" stroke="#1EB4F0" stroke-width="1" stroke-dasharray="4 3"/><polyline points="73.0,684.5 74.0,690.3 75.0,692.9 76.0,696.3 77.0,698.4 78.0,700.8 79.0,702.7 80.0,704.4 81.0,705.0 82.0,705.0 83.0,705.0 84.0,705.0 85.0,705.0 86.0,708.0 87.0,709.6 88.0,711.5 89.0,711.5 90.0,711.5 91.0,711.5 92.0,711.5 93.0,711.5 94.0,711.5 95.0,711.4" fill="none" stroke="#FFA07A" stroke-width="1" stroke-dasharray="4 3"/><polyline points="95.0,711.4 96.0,707.7 97.0,704.9 98.0,701.0 99.0,698.6 100.0,696.3 101.0,694.4 102.0,692.4 103.0,690.6 104.0,688.4 105.0,686.7 106.0,685.7 107.0,685.7 108.0,685.7 109.0,685.7 110.0,685.7 111.0,685.7 112.0,685.7" fill="none" stroke="#1EB4F0" stroke-width="1" stroke-dasharray="4 3"/><polyline points="112.0,685.7 113.0,687.2 114.0,690.8 115.0,690.8 116.0,690.8 117.0,690.8 118.0,690.8 119.0,690.8 120.0,690.8 121.0,690.8 122.0,690.8 123.0,692.3 124.0,694.2 125.0,695.8 126.0,697.5 127.0,699.0 128.0,700.1 129.0,700.6 130.0,701.4 131.0,701.9 132.0,702.7 133.0,703.4 134.0,704.1 135.0,704.6 136.0,704.8 137.0,704.8 138.0,704.8" fill="none" stroke="#FFA07A" stroke-width="1" stroke-dasharray="4 3"/><polyline points="138.0,704.8 139.0,704.6 140.0,696.8 141.0,694.2 142.0,693.2 143.0,693.0 144.0,692.7 145.0,692.6 146.0,692.1 147.0,691.3 148.0,689.4 149.0,687.1 150.0,683.8 151.0,680.3 152.0,676.6 153.0,673.0 154.0,669.4 155.0,665.2 156.0,658.3 157.0,651.2 158.0,646.9 159.0,645.1 160.0,645.1 161.0,645.1 162.0,645.1 163.0,645.1 164.0,645.1 165.0,645.1 166.0,645.1 167.0,645.1 168.0,645.1 169.0,645.1 170.0,645.1 171.0,645.1 172.0,645.1 173.0,645.1 174.0,645.1" fill="none" stroke="#1EB4F0" stroke-width="1" stroke-dasharray="4 3"/><polyline points="174.0,645.1 175.0,645.1 176.0,650.1 177.0,653.5 178.0,656.4 179.0,659.0 180.0,661.0 181.0,662.3 182.0,663.8 183.0,665.1 184.0,666.9 185.0,668.6 186.0,670.7 187.0,673.0 188.0,675.7 189.0,678.5 190.0,681.3 191.0,683.7 192.0,685.5 193.0,686.5 194.0,686.8 195.0,686.8 196.0,686.9 197.0,687.1 198.0,688.1 199.0,690.4 200.0,694.7 201.0,699.9 202.0,702.1 203.0,704.5 204.0,705.2 205.0,705.8 206.0,705.9 207.0,706.1 208.0,706.1 209.0,706.1 210.0,706.1 211.0,706.1 212.0,706.1 213.0,706.1" fill="none" stroke="#FFA07A" stroke-width="1" stroke-dasharray="4 3"/><polyline points="213.0,706.1 214.0,704.6 215.0,693.8 216.0,690.3 217.0,686.0 218.0,681.9 219.0,676.6 220.0,671.6 221.0,664.4 222.0,656.3 223.0,650.5 224.0,650.5 225.0,650.5 226.0,650.5 227.0,650.5 228.0,650.5 229.0,650.5 230.0,650.5 231.0,650.5 232.0,650.5 233.0,650.5 234.0,647.4 235.0,635.1 236.0,631.5 237.0,627.9 238.0,625.5 239.0,623.9 240.0,623.6 241.0,622.5 242.0,621.6 243.0,619.4 244.0,617.5 245.0,616.3 246.0,616.3 247.0,616.3 248.0,616.3 249.0,616.3" fill="none" stroke="#1EB4F0" stroke-width="1" stroke-dasharray="4 3"/><polyline points="249.0,616.3 250.0,629.9 251.0,632.1 252.0,640.1 253.0,644.7 254.0,650.9 255.0,653.3 256.0,667.1 257.0,677.8 258.0,679.8 259.0,679.8 260.0,679.8 261.0,679.8 262.0,679.8 263.0,679.8 264.0,679.8 265.0,679.8 266.0,679.8 267.0,679.8 268.0,679.8 269.0,679.8 270.0,679.8 271.0,679.8 272.0,679.8 273.0,679.8 274.0,679.8 275.0,679.8 276.0,680.7 277.0,684.4 278.0,685.6 279.0,686.6 280.0,687.0 281.0,687.0 282.0,687.0 283.0,687.0" fill="none" stroke="#FFA07A" stroke-width="1" stroke-dasharray="4 3"/><polyline points="283.0,687.0 284.0,683.9 285.0,678.8" fill="none" stroke="#1EB4F0" stroke-width="1" stroke-dasharray="4 3"/><polyline points="285.0,678.8 286.0,678.8 287.0,679.2 288.0,689.3 289.0,694.8 290.0,700.3 291.0,704.1 292.0,708.2 293.0,711.5 294.0,714.4 295.0,716.6 296.0,718.4 297.0,718.4 298.0,718.4 299.0,718.4 300.0,718.4 301.0,719.5 302.0,720.5 303.0,720.5 304.0,720.5 305.0,720.5" fill="none" stroke="#FFA07A" stroke-width="1" stroke-dasharray="4 3"/><polyline points="305.0,720.5 306.0,720.5 307.0,707.8 308.0,704.4 309.0,703.7 310.0,703.7 311.0,703.7 312.0,703.7 313.0,703.7 314.0,703.7 315.0,703.7 316.0,703.7 317.0,701.3 318.0,695.1 319.0,691.1 320.0,684.9 321.0,682.9 322.0,679.0 323.0,674.5 324.0,660.6 325.0,649.9 326.0,647.2 327.0,641.9 328.0,641.0 329.0,638.3 330.0,638.2 331.0,635.9 332.0,635.9 333.0,635.9 334.0,635.9 335.0,635.9 336.0,635.9 337.0,635.9 338.0,635.9 339.0,635.9 340.0,638.2" fill="none" stroke="#1EB4F0" stroke-width="1" stroke-dasharray="4 3"/><polyline points="340.0,638.2 341.0,653.5 342.0,659.6 343.0,666.4 344.0,671.2 345.0,676.6 346.0,680.2 347.0,684.5 348.0,688.8 349.0,694.6 350.0,700.8 351.0,708.0 352.0,715.5 353.0,723.6 354.0,731.6 355.0,739.4 356.0,746.3 357.0,753.1 358.0,759.5 359.0,761.7 360.0,763.6 361.0,763.6 362.0,763.6 363.0,763.6 364.0,763.6 365.0,763.6 366.0,763.2 367.0,754.2 368.0,747.6" fill="none" stroke="#FFA07A" stroke-width="1" stroke-dasharray="4 3"/><polyline points="368.0,747.6 369.0,743.1 370.0,740.0 371.0,735.8 372.0,732.0 373.0,726.8 374.0,721.5 375.0,714.0 376.0,705.3 377.0,702.6 378.0,699.2 379.0,698.1 380.0,694.9 381.0,692.9 382.0,689.3 383.0,687.6 384.0,684.4 385.0,682.3 386.0,679.2 387.0,676.8 388.0,673.6 389.0,671.0 390.0,668.7 391.0,668.4 392.0,668.4 393.0,668.7 394.0,670.9 395.0,671.9 396.0,672.1 397.0,672.1 398.0,672.1 399.0,672.1 400.0,669.0 401.0,666.3 402.0,663.3 403.0,660.9 404.0,658.7 405.0,656.1 406.0,654.3 407.0,654.2 408.0,654.2" fill="none" stroke="#1EB4F0" stroke-width="1" stroke-dasharray="4 3"/><polyline points="408.0,654.2 409.0,654.2 410.0,661.3 411.0,672.2 412.0,675.9 413.0,678.1 414.0,678.1 415.0,678.1 416.0,678.1 417.0,678.1 418.0,678.1 419.0,678.1 420.0,678.1 421.0,678.1 422.0,678.1 423.0,678.1 424.0,676.2" fill="none" stroke="#FFA07A" stroke-width="1" stroke-dasharray="4 3"/><polyline points="424.0,676.2 425.0,674.3 426.0,674.3 427.0,672.8 428.0,671.8 429.0,669.8 430.0,668.0 431.0,665.0 432.0,661.2 433.0,655.9 434.0,652.9 435.0,652.9 436.0,652.9 437.0,652.9 438.0,655.9" fill="none" stroke="#1EB4F0" stroke-width="1" stroke-dasharray="4 3"/><polyline points="438.0,655.9 439.0,660.6 440.0,663.0 441.0,666.1 442.0,668.3 443.0,671.5 444.0,674.2 445.0,677.8 446.0,682.0 447.0,688.3 448.0,695.7 449.0,703.4 450.0,711.8 451.0,717.2 452.0,721.9 453.0,721.9 454.0,721.9 455.0,721.9 456.0,721.9 457.0,721.9 458.0,721.9 459.0,729.8 460.0,732.9 461.0,733.7 462.0,733.7 463.0,733.7 464.0,741.1 465.0,747.4 466.0,747.8 467.0,747.8 468.0,747.8 469.0,747.8 470.0,747.8" fill="none" stroke="#FFA07A" stroke-width="1" stroke-dasharray="4 3"/><polyline points="470.0,747.8 471.0,744.6 472.0,736.6 473.0,731.7 474.0,727.1 475.0,722.5 476.0,715.9 477.0,714.9 478.0,714.8 479.0,714.8 480.0,714.8 481.0,714.3 482.0,712.5 483.0,710.5 484.0,707.5 485.0,704.3 486.0,700.8 487.0,697.7 488.0,694.5 489.0,691.8 490.0,689.5 491.0,689.5 492.0,689.5 493.0,689.5 494.0,691.5 495.0,694.5 496.0,695.7 497.0,695.7 498.0,695.7 499.0,695.7 500.0,695.7 501.0,695.7 502.0,695.7 503.0,695.7" fill="none" stroke="#1EB4F0" stroke-width="1" stroke-dasharray="4 3"/><polyline points="503.0,695.7 504.0,695.7 505.0,697.7 506.0,703.7 507.0,703.7 508.0,703.7 509.0,703.7 510.0,703.7 511.0,703.7 512.0,703.7 513.0,705.5 514.0,711.5 515.0,714.5 516.0,717.3 517.0,717.3 518.0,717.3" fill="none" stroke="#FFA07A" stroke-width="1" stroke-dasharray="4 3"/><polyline points="518.0,717.3 519.0,717.3 520.0,708.8 521.0,701.9 522.0,699.2 523.0,695.9 524.0,694.4 525.0,692.7 526.0,692.2 527.0,691.7 528.0,691.7 529.0,691.7 530.0,691.7 531.0,691.7 532.0,691.7 533.0,687.7 534.0,684.3 535.0,680.5 536.0,677.3 537.0,674.1 538.0,671.6 539.0,669.6 540.0,667.8 541.0,666.1 542.0,664.3 543.0,662.4 544.0,660.5 545.0,658.3 546.0,655.8 547.0,652.6 548.0,648.7 549.0,643.8 550.0,638.5 551.0,633.7 552.0,629.0 553.0,624.1 554.0,619.7 555.0,616.3 556.0,615.8 557.0,615.8 558.0,615.8 559.0,615.8 560.0,615.8 561.0,615.8 562.0,615.8" fill="none" stroke="#1EB4F0" stroke-width="1" stroke-dasharray="4 3"/><polyline points="562.0,615.8 563.0,615.8 564.0,616.2 565.0,631.3 566.0,638.4 567.0,645.9 568.0,649.0 569.0,655.3 570.0,659.4 571.0,666.0 572.0,672.1 573.0,678.2 574.0,679.8 575.0,679.8 576.0,679.8 577.0,679.8 578.0,679.8 579.0,679.8 580.0,679.8 581.0,679.8 582.0,679.8 583.0,679.8 584.0,679.8" fill="none" stroke="#FFA07A" stroke-width="1" stroke-dasharray="4 3"/><polyline points="584.0,679.8 585.0,676.4 586.0,674.8 587.0,672.0 588.0,670.3 589.0,667.3 590.0,664.7 591.0,661.0 592.0,657.8 593.0,654.0 594.0,650.4 595.0,646.0 596.0,639.7 597.0,639.7 598.0,639.7 599.0,639.7 600.0,639.7 601.0,639.7 602.0,639.7 603.0,639.7 604.0,639.7 605.0,640.5 606.0,641.2 607.0,641.7 608.0,643.5" fill="none" stroke="#1EB4F0" stroke-width="1" stroke-dasharray="4 3"/><polyline points="608.0,643.5 609.0,647.4 610.0,652.9 611.0,660.2 612.0,668.2 613.0,679.1 614.0,688.4 615.0,694.3 616.0,699.1 617.0,699.1 618.0,699.5 619.0,699.6 620.0,701.9 621.0,704.9 622.0,709.4 623.0,714.1 624.0,719.7 625.0,724.9 626.0,729.6 627.0,731.0 628.0,731.2 629.0,731.2 630.0,731.2 631.0,731.2 632.0,729.9 633.0,724.3 634.0,722.7 635.0,720.4 636.0,720.4 637.0,720.4 638.0,720.4 639.0,720.4 640.0,720.4 641.0,720.4" fill="none" stroke="#FFA07A" stroke-width="1" stroke-dasharray="4 3"/><polyline points="641.0,720.4 642.0,716.2 643.0,703.2 644.0,693.2 645.0,684.1 646.0,681.1 647.0,681.1 648.0,681.1 649.0,681.1 650.0,681.1 651.0,681.1 652.0,681.1 653.0,682.1 654.0,684.0" fill="none" stroke="#1EB4F0" stroke-width="1" stroke-dasharray="4 3"/><polyline points="654.0,684.0 655.0,684.8 656.0,686.5 657.0,686.5 658.0,686.5 659.0,686.5 660.0,686.5 661.0,686.5 662.0,686.5 663.0,686.5 664.0,686.5" fill="none" stroke="#FFA07A" stroke-width="1" stroke-dasharray="4 3"/><polyline points="664.0,686.5 665.0,683.2 666.0,681.2 667.0,678.3 668.0,675.8 669.0,672.6 670.0,669.2 671.0,665.3 672.0,661.5 673.0,657.7 674.0,654.4 675.0,651.2 676.0,647.9 677.0,644.7 678.0,641.5 679.0,638.3 680.0,635.6 681.0,633.0 682.0,630.5 683.0,627.5 684.0,625.1 685.0,625.1 686.0,625.1 687.0,625.1 688.0,625.1 689.0,624.3 690.0,618.9 691.0,615.3 692.0,610.9 693.0,610.9 694.0,610.9" fill="none" stroke="#1EB4F0" stroke-width="1" stroke-dasharray="4 3"/><polyline points="694.0,610.9 695.0,620.1 696.0,633.4 697.0,642.9 698.0,649.2 699.0,653.2 700.0,657.9 701.0,661.5 702.0,665.5 703.0,668.4 704.0,672.2 705.0,676.5 706.0,682.4 707.0,689.4 708.0,697.4 709.0,705.7 710.0,714.8 711.0,720.2 712.0,720.2 713.0,720.2 714.0,720.2 715.0,720.2 716.0,720.2 717.0,720.2 718.0,720.2 719.0,720.2 720.0,720.2 721.0,720.2 722.0,720.2 723.0,720.2 724.0,720.2 725.0,720.2 726.0,720.2 727.0,720.2 728.0,720.2 729.0,720.2 730.0,720.2 731.0,720.2 732.0,723.5 733.0,725.5 734.0,727.7 735.0,729.1 736.0,730.3 737.0,731.3 738.0,732.5 739.0,733.6 740.0,734.9 741.0,736.2 742.0,737.7 743.0,738.9 744.0,740.0 745.0,740.2 746.0,740.2 747.0,740.2 748.0,740.2 749.0,740.2 750.0,740.2" fill="none" stroke="#FFA07A" stroke-width="1" stroke-dasharray="4 3"/><polyline points="750.0,740.2 751.0,736.5 752.0,735.0 753.0,732.0 754.0,728.5 755.0,723.6 756.0,719.9 757.0,715.2 758.0,712.0 759.0,709.6 760.0,707.8 761.0,705.8 762.0,704.2 763.0,702.4 764.0,701.1 765.0,699.6 766.0,698.4 767.0,698.4 768.0,698.4 769.0,691.3 770.0,686.6 771.0,680.5 772.0,676.3 773.0,672.0 774.0,669.6 775.0,669.6 776.0,668.9 777.0,668.9 778.0,668.9 779.0,668.9 780.0,668.9" fill="none" stroke="#1EB4F0" stroke-width="1" stroke-dasharray="4 3"/><polyline points="780.0,668.9 781.0,668.9 782.0,675.5 783.0,686.9 784.0,692.9 785.0,699.5 786.0,705.2 787.0,711.3 788.0,716.0 789.0,721.5 790.0,724.8 791.0,728.8 792.0,731.7 793.0,734.4 794.0,735.3 795.0,737.4 796.0,739.0 797.0,741.7 798.0,743.1 799.0,745.5 800.0,746.8 801.0,748.5 802.0,748.5 803.0,748.5 804.0,748.5 805.0,748.5 806.0,748.5 807.0,748.5 808.0,745.6 809.0,741.9 810.0,738.8 811.0,737.3 812.0,737.2 813.0,734.8" fill="none" stroke="#FFA07A" stroke-width="1" stroke-dasharray="4 3"/><polyline points="813.0,734.8 814.0,732.9 815.0,730.1 816.0,726.5 817.0,720.3 818.0,710.4 819.0,700.3 820.0,692.5 821.0,685.7 822.0,685.7 823.0,685.7 824.0,685.7 825.0,685.7 826.0,685.7 827.0,685.7 828.0,685.7 829.0,685.7 830.0,685.7 831.0,685.7 832.0,686.5 833.0,689.6" fill="none" stroke="#1EB4F0" stroke-width="1" stroke-dasharray="4 3"/><polyline points="833.0,689.6 834.0,691.9 835.0,699.2 836.0,704.6 837.0,712.0 838.0,712.0 839.0,712.0 840.0,712.0 841.0,712.0 842.0,712.0 843.0,712.0 844.0,712.0 845.0,712.0" fill="none" stroke="#FFA07A" stroke-width="1" stroke-dasharray="4 3"/><polyline points="845.0,712.0 846.0,703.9 847.0,701.0 848.0,696.6 849.0,695.4 850.0,692.6 851.0,692.1 852.0,690.9 853.0,690.9 854.0,690.9 855.0,690.9 856.0,690.9 857.0,687.9 858.0,683.6 859.0,680.0 860.0,676.3 861.0,672.8 862.0,669.2 863.0,666.6 864.0,665.2 865.0,665.2 866.0,665.2 867.0,665.2 868.0,665.2 869.0,665.2 870.0,665.2 871.0,665.2 872.0,665.2 873.0,665.2 874.0,665.2 875.0,665.2 876.0,665.2" fill="none" stroke="#1EB4F0" stroke-width="1" stroke-dasharray="4 3"/><polyline points="876.0,665.2 877.0,667.5 878.0,668.7 879.0,670.7 880.0,672.2 881.0,674.0 882.0,675.7 883.0,677.7 884.0,679.9 885.0,682.5 886.0,684.8 887.0,687.0 888.0,689.0 889.0,691.1 890.0,692.6 891.0,693.8 892.0,694.8 893.0,695.9 894.0,697.1 895.0,698.9 896.0,701.3 897.0,704.2 898.0,707.3 899.0,709.9 900.0,712.3 901.0,714.0 902.0,714.0" fill="none" stroke="#FFA07A" stroke-width="1" stroke-dasharray="4 3"/><polyline points="902.0,714.0 903.0,712.9 904.0,699.0 905.0,693.6 906.0,691.7 907.0,689.8 908.0,689.1 909.0,687.8 910.0,687.7 911.0,687.0 912.0,686.8 913.0,686.0 914.0,686.0 915.0,686.0 916.0,684.2 917.0,682.8 918.0,682.8 919.0,682.8 920.0,682.8" fill="none" stroke="#1EB4F0" stroke-width="1" stroke-dasharray="4 3"/><polyline points="920.0,682.8 921.0,691.0 922.0,694.5 923.0,699.5 924.0,699.7 925.0,701.9 926.0,701.9 927.0,701.9 928.0,701.9 929.0,701.9 930.0,701.9 931.0,701.9 932.0,701.9 933.0,701.9 934.0,701.9 935.0,701.9 936.0,701.9" fill="none" stroke="#FFA07A" stroke-width="1" stroke-dasharray="4 3"/><polyline points="936.0,701.9 937.0,701.9 938.0,682.1 939.0,682.1 940.0,682.1 941.0,682.1 942.0,682.1 943.0,682.1 944.0,682.1 945.0,682.1 946.0,682.1 947.0,682.1 948.0,682.1 949.0,682.1" fill="none" stroke="#1EB4F0" stroke-width="1" stroke-dasharray="4 3"/><polyline points="949.0,682.1 950.0,682.1 951.0,685.1 952.0,697.5 953.0,704.6 954.0,715.7 955.0,721.7 956.0,728.3 957.0,730.3 958.0,730.8 959.0,730.8 960.0,731.0 961.0,732.1 962.0,732.1 963.0,732.1 964.0,732.1 965.0,732.1 966.0,732.1 967.0,732.1 968.0,732.1 969.0,728.6" fill="none" stroke="#FFA07A" stroke-width="1" stroke-dasharray="4 3"/><polyline points="969.0,728.6 970.0,725.1 971.0,720.7 972.0,716.8 973.0,712.2 974.0,707.7 975.0,703.1 976.0,697.8 977.0,692.7 978.0,688.7 979.0,685.1 980.0,682.0 981.0,679.4 982.0,677.4 983.0,675.4 984.0,675.1 985.0,675.1 986.0,675.1 987.0,675.1 988.0,675.1 989.0,675.1 990.0,676.2 991.0,676.2 992.0,676.2 993.0,676.2 994.0,676.2 995.0,666.6 996.0,657.6 997.0,657.6 998.0,657.6 999.0,657.6 1000.0,657.6 1001.0,657.6 1002.0,657.6 1003.0,657.6 1004.0,657.6 1005.0,657.6 1006.0,657.6 1007.0,657.6 1008.0,656.6 1009.0,656.6 1010.0,656.6" fill="none" stroke="#1EB4F0" stroke-width="1" stroke-dasharray="4 3"/><polyline points="1010.0,656.6 1011.0,657.0 1012.0,659.7 1013.0,660.7 1014.0,662.9 1015.0,664.2 1016.0,666.2 1017.0,667.7 1018.0,669.8 1019.0,672.0 1020.0,674.9 1021.0,677.6 1022.0,679.9 1023.0,681.4 1024.0,681.4 1025.0,681.4 1026.0,681.4 1027.0,681.4 1028.0,681.4 1029.0,681.4 1030.0,681.4" fill="none" stroke="#FFA07A" stroke-width="1" stroke-dasharray="4 3"/><polyline points="1030.0,681.4 1031.0,679.1 1032.0,676.4 1033.0,676.0 1034.0,676.0 1035.0,676.0 1036.0,676.0 1037.0,676.0 1038.0,676.0 1039.0,676.0 1040.0,676.0 1041.0,676.0 1042.0,676.0 1043.0,676.0 1044.0,676.0 1045.0,676.0 1046.0,676.0 1047.0,674.1 1048.0,671.6 1049.0,669.2 1050.0,667.2 1051.0,665.4 1052.0,663.6 1053.0,661.6 1054.0,659.5 1055.0,657.2 1056.0,655.2 1057.0,655.2" fill="none" stroke="#1EB4F0" stroke-width="1" stroke-dasharray="4 3"/><polyline points="1057.0,655.2 1058.0,667.7 1059.0,684.8 1060.0,698.1 1061.0,703.5 1062.0,708.8 1063.0,709.8 1064.0,710.3 1065.0,710.3 1066.0,710.3 1067.0,710.3 1068.0,710.3 1069.0,710.3 1070.0,710.3 1071.0,710.3 1072.0,710.3 1073.0,731.7 1074.0,742.4 1075.0,750.0 1076.0,750.0 1077.0,750.0 1078.0,750.0 1079.0,750.0 1080.0,750.0 1081.0,750.0 1082.0,750.0 1083.0,750.0 1084.0,750.0 1085.0,750.0 1086.0,750.0 1087.0,750.0 1088.0,750.0 1089.0,751.3 1090.0,757.3 1091.0,757.3 1092.0,757.3 1093.0,757.3 1094.0,757.3 1095.0,757.3 1096.0,757.3 1097.0,757.3 1098.0,757.3" fill="none" stroke="#FFA07A" stroke-width="1" stroke-dasharray="4 3"/><polyline points="1098.0,757.3 1099.0,757.3 1100.0,751.6 1101.0,748.8 1102.0,746.2 1103.0,745.8 1104.0,745.4 1105.0,745.4 1106.0,745.4 1107.0,745.4 1108.0,745.4 1109.0,745.4 1110.0,745.4 1111.0,745.4 1112.0,741.3 1113.0,738.3 1114.0,733.8 1115.0,729.8 1116.0,725.8 1117.0,722.1 1118.0,718.4 1119.0,714.9 1120.0,711.3 1121.0,707.4 1122.0,703.3 1123.0,699.3 1124.0,695.1 1125.0,690.5 1126.0,690.5 1127.0,690.5 1128.0,690.5 1129.0,690.5 1130.0,690.5 1131.0,690.5 1132.0,690.5" fill="none" stroke="#1EB4F0" stroke-width="1" stroke-dasharray="4 3"/><polyline points="1132.0,690.5 1133.0,712.3 1134.0,723.1 1135.0,732.8 1136.0,732.8 1137.0,732.8 1138.0,732.8 1139.0,732.8 1140.0,732.8 1141.0,732.8 1142.0,732.8 1143.0,732.8 1144.0,732.8 1145.0,732.8 1146.0,744.1 1147.0,747.7 1148.0,751.0 1149.0,751.0 1150.0,751.0 1151.0,751.0 1152.0,746.8 1153.0,745.0 1154.0,745.0 1155.0,745.0 1156.0,745.0 1157.0,745.0 1158.0,745.0 1159.0,745.0 1160.0,743.8" fill="none" stroke="#FFA07A" stroke-width="1" stroke-dasharray="4 3"/><polyline points="1160.0,743.8 1161.0,736.7 1162.0,728.9 1163.0,721.3 1164.0,714.4 1165.0,708.5 1166.0,706.2 1167.0,703.9 1168.0,703.3 1169.0,702.6 1170.0,702.4 1171.0,701.6" fill="none" stroke="#1EB4F0" stroke-width="1" stroke-dasharray="4 3"/><polyline points="2.9,691.7 3.6,691.5 4.6,691.2 5.9,691.2 7.3,691.7 8.9,693.1 10.7,695.1 12.6,697.2 14.5,699.0 16.4,700.4 18.3,701.7 20.1,702.7 21.8,703.3 23.1,703.3 24.3,702.7 25.4,702.0 26.6,701.4 28.0,700.9 29.4,700.4 31.0,700.0 32.7,700.2 34.6,701.0 36.7,702.4 38.9,703.9 41.2,705.0 43.6,705.8 46.1,706.4 48.6,706.8 50.8,706.9 52.8,706.8 54.5,706.5 56.2,705.9 58.1,705.0 60.4,703.6 63.0,701.8 65.5,700.0 67.8,698.5 69.8,697.3 71.6,696.2 73.3,695.5 75.1,695.3 76.8,696.0 78.5,697.2 80.3,698.8 82.3,700.2 84.7,701.5 87.2,702.9 89.8,704.2 92.0,705.0 93.8,705.4 95.2,705.4 96.5,705.1 98.1,704.5 99.8,703.4 101.6,701.9 103.5,700.3 105.3,699.0 107.1,697.8 108.9,696.8 110.7,695.9 112.6,695.3 114.6,695.1 116.7,695.2 118.8,695.5 121.1,695.8 123.4,696.2 125.9,696.7 128.4,697.3 130.8,697.7 133.0,698.2 135.1,698.6 137.1,698.9 139.2,699.0 141.4,698.7 143.6,698.1 145.8,697.4 147.7,696.5 149.4,695.6 150.9,694.6 152.3,693.3 153.8,691.7 155.2,689.6 156.7,687.1 158.2,684.5 159.8,682.0 161.5,679.7 163.4,677.5 165.2,675.5 167.1,673.5 168.9,671.7 170.8,670.1 172.6,668.6 174.3,667.5 175.9,666.7 177.4,666.2 178.8,666.0 180.4,666.3 182.1,667.1 184.0,668.3 185.9,669.8 187.7,671.1 189.2,672.3 190.7,673.5 192.1,674.7 193.7,676.0 195.4,677.1 197.3,678.3 199.1,679.5 201.0,680.8 202.8,682.3 204.7,683.9 206.5,685.5 208.2,686.9 209.9,688.1 211.4,689.2 212.9,690.1 214.3,690.5 215.6,690.4 216.8,690.0 217.9,689.2 219.1,688.1 220.4,686.3 221.6,684.0 222.8,681.6 224.0,679.6 224.9,678.1 225.8,676.8 226.6,675.7 227.6,674.7 228.7,674.1 229.9,673.8 231.1,673.4 232.4,672.3 233.9,670.5 235.4,668.1 237.0,665.4 238.5,662.6 240.0,659.7 241.6,656.4 243.1,653.2 244.6,650.5 245.9,648.3 247.2,646.4 248.4,644.8 249.4,643.8 250.1,643.1 250.6,642.8 251.1,643.0 251.8,643.8 252.9,645.2 254.1,647.2 255.4,649.5 256.7,651.7 257.9,653.9 259.1,656.2 260.3,658.3 261.5,660.2 262.7,661.7 263.8,662.9 265.0,664.0 266.3,665.1 268.0,666.2 269.8,667.3 271.7,668.4 273.6,669.4 275.5,670.5 277.3,671.6 279.1,672.7 280.9,673.5 282.5,674.0 284.0,674.3 285.5,674.6 286.9,675.2 288.2,676.3 289.4,677.6 290.6,679.1 291.8,680.8 293.0,682.7 294.2,684.9 295.4,687.2 296.6,689.3 297.8,691.2 299.0,693.2 300.2,695.0 301.5,696.5 302.6,697.9 303.8,699.2 305.0,700.1 306.3,700.7 307.7,700.7 309.2,700.2 310.8,699.6 312.3,699.0 314.0,698.3 315.7,697.6 317.2,697.0 318.4,696.5 319.0,696.5 319.3,696.8 319.5,697.0 320.0,696.5 321.0,695.4 322.2,693.7 323.6,691.7 324.8,689.3 326.0,686.3 327.2,682.8 328.4,679.3 329.7,676.0 331.1,672.9 332.7,669.9 334.3,667.3 335.7,665.1 337.0,663.3 338.2,661.9 339.4,661.1 340.6,660.9 341.8,661.6 342.9,663.0 344.1,665.0 345.4,667.5 346.8,670.4 348.3,673.9 349.9,677.8 351.5,682.0 353.2,686.7 355.0,691.8 356.9,696.8 358.7,701.4 360.6,705.4 362.5,709.1 364.4,712.3 366.0,714.7 367.4,716.2 368.6,716.9 369.7,717.1 370.8,717.1 372.1,717.0 373.3,716.5 374.5,715.8 375.7,714.7 376.8,713.3 378.0,711.5 379.2,709.5 380.5,707.4 382.2,705.1 384.0,702.5 385.9,700.0 387.8,697.7 389.6,696.0 391.4,694.4 393.2,693.0 395.1,691.7 396.9,690.5 398.7,689.3 400.5,688.2 402.3,686.9 404.2,685.0 406.1,682.8 407.9,680.9 409.6,679.6 410.9,679.3 412.1,679.7 413.2,680.3 414.4,680.8 415.8,681.2 417.3,681.7 418.9,682.0 420.5,682.0 422.2,681.5 424.0,680.6 425.9,679.6 427.7,678.4 429.6,676.9 431.5,675.2 433.4,673.6 435.0,672.3 436.4,671.4 437.5,670.8 438.6,670.4 439.9,670.4 441.3,670.6 442.8,671.2 444.4,672.1 445.9,673.5 447.4,675.7 448.9,678.4 450.4,681.4 452.0,684.4 453.4,687.4 454.9,690.4 456.4,693.5 458.0,696.5 459.8,699.7 461.6,702.9 463.5,706.0 465.3,708.6 466.9,710.9 468.5,712.8 469.9,714.3 471.3,715.4 472.6,716.0 473.8,716.1 474.9,715.9 476.2,715.4 477.6,714.7 479.0,713.6 480.6,712.3 482.2,711.1 484.0,709.8 485.8,708.3 487.6,706.9 489.5,705.7 491.3,704.8 493.0,703.9 494.9,703.2 496.8,702.6 498.8,702.0 500.9,701.5 503.1,701.1 505.2,700.9 507.4,701.0 509.6,701.2 511.8,701.6 513.7,702.1 515.4,702.9 516.9,703.9 518.3,704.7 519.8,705.0 521.2,704.6 522.7,703.8 524.2,702.6 525.8,701.4 527.5,700.0 529.4,698.5 531.2,696.9 533.1,695.3 534.9,693.9 536.7,692.5 538.5,691.0 540.3,689.3 542.2,687.4 544.0,685.3 545.9,683.1 547.6,680.8 549.2,678.3 550.7,675.7 552.2,672.9 553.7,669.9 555.2,666.3 556.7,662.3 558.2,658.5 559.7,655.4 561.1,653.1 562.5,651.5 563.8,650.3 565.0,649.8 566.2,649.9 567.2,650.7 568.3,651.9 569.4,653.4 570.6,655.4 571.8,657.8 573.0,660.3 574.2,662.6 575.4,664.7 576.6,666.8 577.8,668.6 579.1,669.9 580.5,670.8 582.0,671.2 583.6,671.3 585.1,671.1 586.6,670.6 588.1,669.6 589.6,668.4 591.2,667.0 592.9,665.2 594.7,663.0 596.6,660.8 598.5,659.0 600.3,657.6 602.2,656.4 604.1,655.4 605.7,654.6 607.1,654.1 608.3,653.8 609.4,653.7 610.6,654.2 611.7,655.0 612.9,656.3 614.1,658.0 615.4,660.2 616.8,663.3 618.4,667.0 619.9,670.9 621.5,674.7 623.0,678.6 624.5,682.5 626.0,686.2 627.5,689.3 629.0,691.5 630.6,693.1 632.1,694.3 633.6,695.3 634.9,696.1 636.3,696.6 637.4,696.9 638.4,697.3 639.0,697.8 639.2,698.4 639.4,698.8 640.0,699.0 641.0,698.7 642.1,698.1 643.5,697.3 644.8,696.5 646.3,695.7 647.8,694.8 649.4,693.9 650.9,693.4 652.4,693.3 653.9,693.6 655.4,693.9 656.9,694.1 658.5,694.2 660.0,694.2 661.5,694.0 663.0,693.6 664.5,693.0 666.0,692.3 667.5,691.2 669.1,689.8 670.5,687.8 672.0,685.3 673.5,682.6 675.1,679.6 676.8,676.2 678.7,672.4 680.5,668.6 682.4,665.1 684.2,661.7 686.2,658.4 688.0,655.4 689.6,653.0 691.0,651.1 692.3,649.8 693.4,648.8 694.5,648.1 695.4,647.6 696.3,647.3 697.1,647.4 698.1,648.1 699.2,649.5 700.4,651.4 701.6,653.8 703.0,656.6 704.4,659.8 705.9,663.5 707.5,667.4 709.0,671.1 710.5,674.6 712.0,678.2 713.5,681.5 715.1,684.4 716.6,687.0 718.1,689.3 719.6,691.2 721.1,692.9 722.6,694.0 724.1,694.7 725.6,695.4 727.2,696.5 728.9,698.3 730.7,700.5 732.6,702.8 734.4,705.0 736.2,707.2 738.0,709.3 739.8,711.5 741.7,713.5 743.8,715.6 746.0,717.6 748.2,719.5 750.2,720.8 751.8,721.4 753.3,721.7 754.7,721.4 756.2,720.8 757.9,719.5 759.7,717.6 761.6,715.6 763.5,713.5 765.5,711.5 767.7,709.4 769.9,707.2 772.0,705.0 773.9,702.5 775.9,699.8 777.7,697.3 779.2,695.3 780.4,694.0 781.2,693.1 781.9,692.7 782.9,692.9 784.0,693.7 785.1,694.9 786.4,696.7 787.7,699.0 789.1,701.9 790.7,705.4 792.2,709.0 793.8,712.3 795.2,715.0 796.7,717.5 798.2,719.8 799.8,722.0 801.5,724.0 803.3,726.0 805.1,727.6 807.1,728.7 809.2,729.4 811.5,729.6 813.7,729.4 815.5,728.7 817.0,727.6 818.1,726.0 819.2,724.0 820.4,722.0 821.8,719.6 823.3,716.9 824.9,714.3 826.4,712.3 828.0,710.8 829.5,709.8 831.1,709.1 832.5,708.6 833.7,708.6 834.8,708.8 836.0,709.3 837.3,709.9 839.0,710.7 840.9,711.9 842.8,712.9 844.6,713.0 846.2,712.0 847.6,710.3 849.1,708.3 850.7,706.2 852.3,704.3 854.1,702.2 855.9,700.0 857.9,697.7 860.2,695.3 862.7,692.8 865.2,690.3 867.6,688.1 869.9,686.2 872.1,684.5 874.2,683.1 876.1,682.0 877.8,681.3 879.3,681.0 880.8,680.9 882.1,680.8 883.4,680.7 884.5,680.8 885.6,681.0 887.0,681.5 888.6,682.5 890.4,683.8 892.3,685.3 894.2,686.9 896.4,688.6 898.6,690.6 900.8,692.4 902.7,693.6 904.1,694.1 905.3,694.0 906.3,693.6 907.6,692.9 909.0,691.9 910.5,690.6 912.1,689.2 913.6,688.1 915.1,687.1 916.7,686.3 918.2,685.8 919.7,685.6 920.9,686.1 922.1,687.0 923.2,688.1 924.5,689.3 925.9,690.6 927.5,692.2 929.0,693.6 930.6,694.6 932.1,695.1 933.6,695.2 935.1,695.1 936.6,694.6 938.1,693.7 939.6,692.3 941.1,690.9 942.7,689.8 944.5,688.8 946.4,687.8 948.3,687.2 949.9,687.3 951.3,688.3 952.5,690.0 953.7,692.0 954.8,694.1 956.0,696.5 957.2,699.2 958.3,701.8 959.1,703.8 959.5,704.8 959.6,705.2 959.7,705.5 960.0,706.2 960.7,707.6 961.6,709.2 962.6,710.9 963.6,712.3 964.8,713.4 966.0,714.3 967.2,714.9 968.5,715.2 969.7,715.0 970.8,714.5 972.0,713.6 973.3,712.3 974.7,710.3 976.3,707.7 977.8,705.0 979.4,702.6 980.9,700.5 982.5,698.6 984.0,696.8 985.4,695.3 986.7,694.2 987.9,693.4 989.1,692.8 990.3,692.2 991.5,691.8 992.7,691.5 993.9,691.2 995.1,690.5 996.3,689.3 997.5,687.8 998.7,686.1 1000.0,684.4 1001.4,682.7 1003.0,680.9 1004.5,679.2 1006.0,677.7 1007.3,676.4 1008.5,675.2 1009.7,674.3 1010.8,673.5 1012.1,673.0 1013.3,672.6 1014.5,672.3 1015.7,672.3 1016.9,672.6 1018.1,673.1 1019.3,673.7 1020.5,674.3 1021.7,674.9 1022.9,675.6 1024.1,676.3 1025.4,676.7 1026.8,676.8 1028.3,676.8 1029.9,676.6 1031.4,676.4 1032.9,676.2 1034.3,675.8 1035.8,675.4 1037.5,675.2 1039.5,675.4 1041.6,675.7 1043.9,676.0 1046.0,676.0 1047.9,675.5 1049.8,674.8 1051.6,673.9 1053.2,673.1 1054.5,672.0 1055.7,670.7 1056.7,669.7 1057.6,669.4 1058.4,670.0 1059.1,671.3 1059.7,673.0 1060.5,674.7 1061.3,676.7 1062.3,678.9 1063.2,681.1 1064.1,683.2 1065.0,685.0 1065.9,686.7 1066.8,688.4 1067.7,690.0 1068.8,691.5 1070.0,692.9 1071.3,694.5 1072.6,696.5 1074.0,699.3 1075.5,702.5 1077.0,705.7 1078.6,708.6 1080.4,711.0 1082.2,713.0 1084.1,715.0 1085.9,717.1 1087.8,719.5 1089.6,722.1 1091.4,724.6 1093.2,726.8 1094.8,728.7 1096.3,730.4 1097.7,731.8 1099.2,732.9 1100.7,733.5 1102.2,733.8 1103.7,733.9 1105.3,734.1 1107.0,734.3 1108.9,734.6 1110.8,734.8 1112.5,734.8 1114.2,734.6 1115.7,734.2 1117.2,733.7 1118.6,732.9 1119.9,731.7 1121.1,730.3 1122.3,728.7 1123.4,726.8 1124.7,724.5 1125.9,721.8 1127.1,719.2 1128.3,717.1 1129.4,715.6 1130.4,714.5 1131.5,713.7 1132.4,713.5 1133.2,713.8 1133.9,714.6 1134.7,715.8 1135.5,717.1 1136.6,718.7 1137.8,720.6 1139.1,722.6 1140.4,724.4 1141.8,726.0 1143.3,727.6 1144.8,729.1 1146.4,730.4 1148.2,731.6 1150.0,732.6 1151.9,733.4 1153.7,734.1 1155.6,734.6 1157.5,734.9 1159.3,735.0 1161.0,734.8 1162.3,734.2 1163.5,733.2 1164.6,731.9 1165.8,730.4 1167.3,728.4 1168.9,725.9 1170.4,723.6 1171.4,722.0" fill="none" stroke="#FF0000" stroke-width="2" stroke-linejoin="round"/></g><path d="M2.5 2V573M2 2.5H1847M1846.5 2V803M2 573.5H1847M2 575.5H1847M2.5 575V807M2 802.5H1847" stroke="#000" stroke-width="1" fill="none"/><path d="M1847 14.5H1851M1847 45.5H1851M1847 76.5H1851M1847 107.5H1851M1847 138.5H1851M1847 169.5H1851M1847 200.5H1851M1847 232.5H1851M1847 263.5H1851M1847 294.5H1851M1847 325.5H1851M1847 356.5H1851M1847 387.5H1851M1847 418.5H1851M1847 449.5H1851M1847 480.5H1851M1847 511.5H1851M1847 542.5H1851M1847 641.5H1851M1847 755.5H1851M1847 576.5H1851M1847 801.5H1851M2.5 803V807M130.5 803V807M258.5 803V807M386.5 803V807M514.5 803V807M642.5 803V807M770.5 803V807M898.5 803V807M1026.5 803V807M1154.5 803V807" stroke="#000" stroke-width="1"/></svg>
<div class="t" style="left:1852px;top:8px;">0.96470</div><div class="t" style="left:1852px;top:39px;">0.96445</div><div class="t" style="left:1852px;top:70px;">0.96420</div><div class="t" style="left:1852px;top:101px;">0.96395</div><div class="t" style="left:1852px;top:132px;">0.96370</div><div class="t" style="left:1852px;top:163px;">0.96345</div><div class="t" style="left:1852px;top:194px;">0.96320</div><div class="t" style="left:1852px;top:226px;">0.96295</div><div class="t" style="left:1852px;top:257px;">0.96270</div><div class="t" style="left:1852px;top:288px;">0.96245</div><div class="t" style="left:1852px;top:319px;">0.96220</div><div class="t" style="left:1852px;top:350px;">0.96195</div><div class="t" style="left:1852px;top:381px;">0.96170</div><div class="t" style="left:1852px;top:412px;">0.96145</div><div class="t" style="left:1852px;top:443px;">0.96120</div><div class="t" style="left:1852px;top:474px;">0.96095</div><div class="t" style="left:1852px;top:505px;">0.96070</div><div class="t" style="left:1852px;top:536px;">0.96045</div><div class="t" style="left:1852px;top:576px;">92.944409</div><div class="t" style="left:1852px;top:635px;">70.000000</div><div class="t" style="left:1852px;top:749px;">30.000000</div><div class="t" style="left:1852px;top:789px;">13.460732</div><div class="t" style="left:1px;top:807px;">21 Jul 2023</div><div class="t" style="left:129px;top:807px;">21 Jul 18:24</div><div class="t" style="left:257px;top:807px;">21 Jul 20:32</div><div class="t" style="left:385px;top:807px;">21 Jul 22:40</div><div class="t" style="left:513px;top:807px;">24 Jul 00:57</div><div class="t" style="left:641px;top:807px;">24 Jul 03:05</div><div class="t" style="left:769px;top:807px;">24 Jul 05:13</div><div class="t" style="left:897px;top:807px;">24 Jul 07:21</div><div class="t" style="left:1025px;top:807px;">24 Jul 09:29</div><div class="t" style="left:1153px;top:807px;">24 Jul 11:37</div><div class="t" style="left:6.5px;top:5px;transform:scaleX(.935);transform-origin:0 0">EURCHF.r, M1:&nbsp; Euro vs Swiss Franc</div><div class="t" style="left:5px;top:580px;">Corrected RSX (21) 57.090478 48.713442 MA(55) 41.8570065</div><div class="m" style="left:1575px;top:7px">Spread: 3.. Next Bar in 00:55</div><div class="lab" style="left:1849px;top:343px;background:#FF0000">0.96199</div><div class="lab" style="left:1849px;top:493px;background:#FF0000"></div><div class="lab" style="left:1849px;top:496px;background:#000">0.96076</div>
</body></html>
